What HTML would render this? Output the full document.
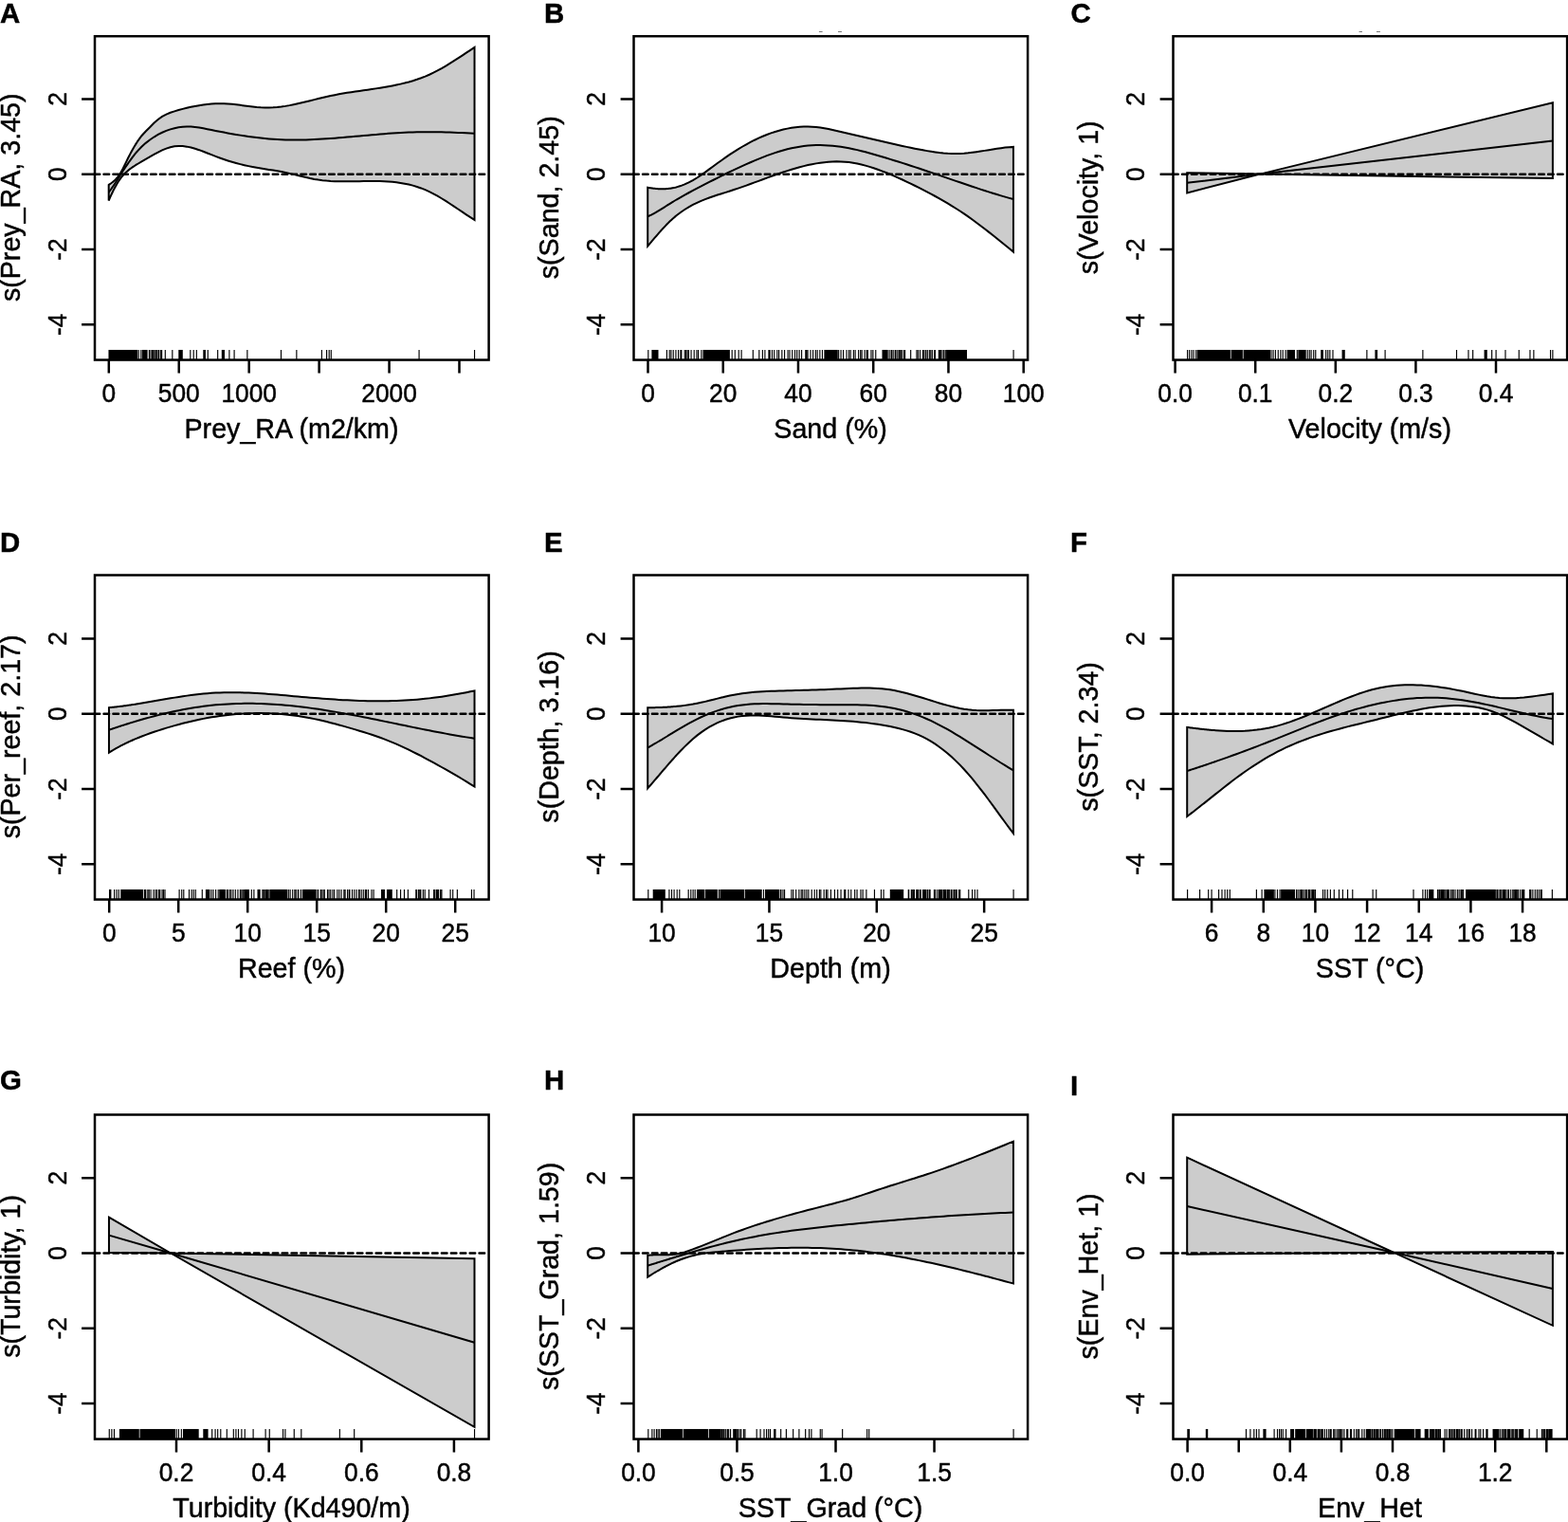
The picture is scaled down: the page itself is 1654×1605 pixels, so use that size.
<!DOCTYPE html>
<html lang="en"><head><meta charset="utf-8"><title>GAM partial effects</title>
<style>html,body{margin:0;padding:0;background:#fff}svg{display:block}text{stroke:#000;stroke-width:.45px}</style></head>
<body>
<svg width="1654" height="1605" viewBox="0 0 1654 1605">
<rect width="1654" height="1605" fill="#fff"/>
<g font-family="'Liberation Sans', Arial, Helvetica, sans-serif" fill="#000">
<g id="panelA">
<path d="M114.69 194.93 L115.94 194.11 L117.19 193.25 L118.44 192.31 L119.02 191.85 L119.69 191.29 L120.94 190.16 L122.19 188.9 L123.36 187.59 L123.44 187.5 L124.69 185.92 L125.94 184.17 L127.19 182.2 L127.69 181.34 L128.44 180.03 L129.69 177.69 L130.94 175.22 L132.03 173.01 L132.19 172.68 L133.44 170.11 L134.69 167.55 L135.94 165.05 L136.36 164.21 L137.19 162.62 L138.44 160.26 L139.69 157.97 L140.7 156.18 L140.94 155.77 L142.19 153.65 L143.44 151.62 L144.69 149.67 L145.03 149.15 L149.37 143.26 L153.7 138.52 L158.04 134.21 L162.37 129.83 L166.71 125.91 L171.04 122.86 L175.38 120.55 L179.71 118.78 L184.05 117.35 L188.39 116.07 L192.72 114.89 L197.06 113.8 L201.39 112.8 L205.73 111.92 L210.06 111.15 L214.4 110.49 L218.73 109.97 L223.07 109.58 L227.4 109.32 L231.74 109.22 L236.07 109.26 L240.41 109.47 L244.74 109.82 L249.08 110.28 L253.41 110.82 L257.75 111.39 L262.09 111.97 L266.42 112.5 L270.76 112.97 L275.09 113.32 L279.43 113.52 L283.76 113.54 L288.1 113.36 L292.43 113.02 L296.77 112.52 L301.1 111.88 L305.44 111.13 L309.77 110.28 L314.11 109.34 L318.44 108.34 L322.78 107.29 L327.11 106.21 L331.45 105.13 L335.79 104.05 L340.12 102.99 L344.46 101.98 L348.79 101.04 L353.13 100.16 L357.46 99.34 L361.8 98.58 L366.13 97.86 L370.47 97.19 L374.8 96.53 L379.14 95.9 L383.47 95.28 L387.81 94.65 L392.14 94.02 L396.48 93.37 L400.81 92.7 L405.15 91.99 L409.49 91.23 L413.82 90.43 L418.16 89.55 L422.49 88.61 L426.83 87.57 L431.16 86.43 L435.5 85.17 L439.83 83.79 L444.17 82.26 L448.5 80.58 L452.84 78.73 L457.17 76.7 L461.51 74.49 L465.84 72.11 L470.18 69.59 L474.51 66.95 L478.85 64.21 L483.18 61.41 L487.52 58.55 L491.86 55.68 L496.19 52.8 L500.53 49.95 L500.53 231.9 L496.19 229.17 L491.86 226.33 L487.52 223.44 L483.18 220.52 L478.85 217.61 L474.51 214.74 L470.18 211.94 L465.84 209.24 L461.51 206.68 L457.17 204.29 L452.84 202.1 L448.5 200.15 L444.17 198.43 L439.83 196.94 L435.5 195.65 L431.16 194.56 L426.83 193.65 L422.49 192.9 L418.16 192.3 L413.82 191.83 L409.49 191.49 L405.15 191.24 L400.81 191.09 L396.48 191.01 L392.14 191 L387.81 191.02 L383.47 191.08 L379.14 191.16 L374.8 191.24 L370.47 191.3 L366.13 191.34 L361.8 191.34 L357.46 191.28 L353.13 191.14 L348.79 190.93 L344.46 190.61 L340.12 190.18 L335.79 189.61 L331.45 188.91 L327.11 188.05 L322.78 187.08 L318.44 186.04 L314.11 184.96 L309.77 183.88 L305.44 182.85 L301.1 181.91 L296.77 181.07 L292.43 180.31 L288.1 179.6 L283.76 178.92 L279.43 178.25 L275.09 177.55 L270.76 176.81 L266.42 176 L262.09 175.11 L257.75 174.15 L253.41 173.1 L249.08 171.96 L244.74 170.74 L240.41 169.42 L236.07 168.01 L231.74 166.5 L227.4 164.89 L223.07 163.19 L218.73 161.47 L214.4 159.77 L210.06 158.18 L205.73 156.75 L201.39 155.55 L197.06 154.64 L192.72 154.08 L188.39 153.95 L184.05 154.3 L179.71 155.2 L175.38 156.6 L171.04 158.41 L166.71 160.55 L162.37 162.91 L158.04 165.42 L153.7 167.98 L149.37 170.49 L145.03 173 L144.69 173.21 L143.44 173.96 L142.19 174.74 L140.94 175.54 L140.7 175.7 L139.69 176.38 L138.44 177.26 L137.19 178.17 L136.36 178.81 L135.94 179.14 L134.69 180.16 L133.44 181.25 L132.19 182.4 L132.03 182.56 L130.94 183.65 L129.69 185 L128.44 186.47 L127.69 187.41 L127.19 188.07 L125.94 189.82 L124.69 191.71 L123.44 193.75 L123.36 193.88 L122.19 195.92 L120.94 198.22 L119.69 200.65 L119.02 202 L118.44 203.21 L117.19 205.88 L115.94 208.67 L114.69 211.56Z" fill="#cccccc" stroke="#000" stroke-width="2.0" stroke-linejoin="miter"/>
<path d="M114.69 202.92 L115.94 201.23 L117.19 199.48 L118.44 197.67 L119.02 196.81 L119.69 195.82 L120.94 193.93 L122.19 192 L123.36 190.19 L123.44 190.06 L124.69 188.11 L125.94 186.15 L127.19 184.19 L127.69 183.41 L128.44 182.25 L129.69 180.32 L130.94 178.42 L132.03 176.77 L132.19 176.53 L133.44 174.67 L134.69 172.84 L135.94 171.05 L136.36 170.45 L137.19 169.3 L138.44 167.58 L139.69 165.91 L140.7 164.6 L140.94 164.3 L142.19 162.73 L143.44 161.22 L144.69 159.77 L145.03 159.38 L149.37 154.82 L153.7 150.87 L158.04 147.46 L162.37 144.52 L166.71 141.98 L171.04 139.78 L175.38 137.92 L179.71 136.38 L184.05 135.17 L188.39 134.29 L192.72 133.73 L197.06 133.5 L201.39 133.58 L205.73 133.95 L210.06 134.55 L214.4 135.3 L218.73 136.15 L223.07 137.04 L227.4 137.92 L231.74 138.77 L236.07 139.6 L240.41 140.4 L244.74 141.18 L249.08 141.91 L253.41 142.62 L257.75 143.29 L262.09 143.91 L266.42 144.5 L270.76 145.04 L275.09 145.54 L279.43 145.98 L283.76 146.38 L288.1 146.72 L292.43 147 L296.77 147.23 L301.1 147.39 L305.44 147.49 L309.77 147.54 L314.11 147.54 L318.44 147.49 L322.78 147.39 L327.11 147.26 L331.45 147.08 L335.79 146.86 L340.12 146.61 L344.46 146.34 L348.79 146.03 L353.13 145.71 L357.46 145.36 L361.8 145 L366.13 144.62 L370.47 144.23 L374.8 143.84 L379.14 143.44 L383.47 143.04 L387.81 142.65 L392.14 142.26 L396.48 141.88 L400.81 141.51 L405.15 141.16 L409.49 140.82 L413.82 140.51 L418.16 140.23 L422.49 139.97 L426.83 139.74 L431.16 139.55 L435.5 139.4 L439.83 139.28 L444.17 139.2 L448.5 139.16 L452.84 139.15 L457.17 139.17 L461.51 139.23 L465.84 139.31 L470.18 139.41 L474.51 139.55 L478.85 139.7 L483.18 139.88 L487.52 140.08 L491.86 140.3 L496.19 140.54 L500.53 140.79" fill="none" stroke="#000" stroke-width="2.0"/>
<line x1="99.6" y1="183.8" x2="513.1" y2="183.8" stroke="#000" stroke-width="2.45" stroke-dasharray="5.65 4.25" stroke-linecap="round"/>
<path d="M146.22 368.95V379.55M148.81 368.95V379.55M157.39 368.95V379.55M158.95 368.95V379.55M160.51 368.95V379.55M161.81 368.95V379.55M163.11 368.95V379.55M164.67 368.95V379.55M165.97 368.95V379.55M167.53 368.95V379.55M169.35 368.95V379.55M170.65 368.95V379.55M174.29 368.95V379.55M181.83 368.95V379.55M200.81 368.95V379.55M204.19 368.95V379.55M207.31 368.95V379.55M219.27 368.95V379.55M229.67 368.95V379.55M241.89 368.95V379.55M247.09 368.95V379.55M260.86 368.95V379.55M296.48 368.95V379.55M312.86 368.95V379.55M339.38 368.95V379.55M344.58 368.95V379.55M347.18 368.95V379.55M349.26 368.95V379.55M442.07 368.95V379.55M500.56 368.95V379.55" stroke="#000" stroke-width="1.15" fill="none"/>
<rect x="114.46" y="368.95" width="30.76" height="10.6"/>
<rect x="149.81" y="368.95" width="5.8" height="10.6"/>
<rect x="188.29" y="368.95" width="4.5" height="10.6"/>
<rect x="214.29" y="368.95" width="2.68" height="10.6"/>
<rect x="233.79" y="368.95" width="3.2" height="10.6"/>
<rect x="100" y="38.2" width="415.6" height="341.35" fill="none" stroke="#000" stroke-width="2.5"/>
<path d="M114.8 379.55V393.45M188.74 379.55V393.45M262.68 379.55V393.45M336.62 379.55V393.45M410.56 379.55V393.45M484.5 379.55V393.45M100 104.54H86.1M100 183.8H86.1M100 263.06H86.1M100 342.32H86.1" stroke="#000" stroke-width="2.5" fill="none"/>
<text transform="translate(114.8 423.95) scale(1 1.03)" font-size="26.3" text-anchor="middle">0</text>
<text transform="translate(188.74 423.95) scale(1 1.03)" font-size="26.3" text-anchor="middle">500</text>
<text transform="translate(262.68 423.95) scale(1 1.03)" font-size="26.3" text-anchor="middle">1000</text>
<text transform="translate(410.56 423.95) scale(1 1.03)" font-size="26.3" text-anchor="middle">2000</text>
<text transform="translate(69.8 104.54) rotate(-90) scale(1 1.03)" font-size="26.3" text-anchor="middle">2</text>
<text transform="translate(69.8 183.8) rotate(-90) scale(1 1.03)" font-size="26.3" text-anchor="middle">0</text>
<text transform="translate(69.8 263.06) rotate(-90) scale(1 1.03)" font-size="26.3" text-anchor="middle">-2</text>
<text transform="translate(69.8 342.32) rotate(-90) scale(1 1.03)" font-size="26.3" text-anchor="middle">-4</text>
<text transform="translate(307.5 461.85) scale(1 1.04)" font-size="28.65" text-anchor="middle">Prey_RA (m2/km)</text>
<text transform="translate(20.6 208.28) rotate(-90) scale(1 1.04)" font-size="28.65" text-anchor="middle">s(Prey_RA, 3.45)</text>
<text transform="translate(0 24.1) scale(1 1.03)" font-size="29.4" text-anchor="start" font-weight="bold">A</text>
</g>
<g id="panelB">
<path d="M683.22 197.71 L684.47 197.94 L685.72 198.16 L686.97 198.36 L687.55 198.44 L688.22 198.54 L689.47 198.7 L690.72 198.84 L691.89 198.96 L691.97 198.97 L693.22 199.07 L694.47 199.15 L695.72 199.21 L696.22 199.23 L696.97 199.25 L698.22 199.27 L699.47 199.26 L700.55 199.24 L700.72 199.23 L701.97 199.17 L703.22 199.09 L704.47 198.99 L704.89 198.95 L705.72 198.86 L706.97 198.7 L708.22 198.51 L709.22 198.34 L709.47 198.3 L710.72 198.05 L711.97 197.78 L713.22 197.48 L713.55 197.39 L717.89 196.08 L722.22 194.42 L726.56 192.43 L730.89 190.11 L735.22 187.5 L739.56 184.63 L743.89 181.59 L748.22 178.43 L752.56 175.24 L756.89 172.06 L761.23 168.94 L765.56 165.89 L769.89 162.94 L774.23 160.08 L778.56 157.35 L782.89 154.74 L787.23 152.27 L791.56 149.93 L795.9 147.73 L800.23 145.68 L804.56 143.77 L808.9 142.01 L813.23 140.4 L817.57 138.96 L821.9 137.67 L826.23 136.55 L830.57 135.61 L834.9 134.83 L839.23 134.23 L843.57 133.82 L847.9 133.59 L852.24 133.54 L856.57 133.69 L860.9 134.04 L865.24 134.58 L869.57 135.27 L873.9 136.09 L878.24 137.01 L882.57 137.98 L886.91 138.98 L891.24 139.99 L895.57 140.99 L899.91 141.99 L904.24 142.99 L908.57 144 L912.91 145.01 L917.24 146.02 L921.58 147.03 L925.91 148.04 L930.24 149.05 L934.58 150.05 L938.91 151.04 L943.25 152.02 L947.58 152.99 L951.91 153.94 L956.25 154.87 L960.58 155.78 L964.91 156.67 L969.25 157.52 L973.58 158.35 L977.92 159.12 L982.25 159.83 L986.58 160.46 L990.92 161.01 L995.25 161.46 L999.58 161.79 L1003.92 161.99 L1008.25 162.06 L1012.59 161.97 L1016.92 161.72 L1021.25 161.34 L1025.59 160.83 L1029.92 160.24 L1034.25 159.58 L1038.59 158.87 L1042.92 158.15 L1047.26 157.44 L1051.59 156.76 L1055.92 156.15 L1060.26 155.61 L1064.59 155.18 L1068.93 154.89 L1068.93 265.55 L1064.59 262.04 L1060.26 258.53 L1055.92 255.02 L1051.59 251.53 L1047.26 248.07 L1042.92 244.64 L1038.59 241.26 L1034.25 237.93 L1029.92 234.68 L1025.59 231.5 L1021.25 228.41 L1016.92 225.42 L1012.59 222.53 L1008.25 219.74 L1003.92 217.04 L999.58 214.42 L995.25 211.87 L990.92 209.4 L986.58 207 L982.25 204.65 L977.92 202.36 L973.58 200.12 L969.25 197.92 L964.91 195.76 L960.58 193.64 L956.25 191.55 L951.91 189.52 L947.58 187.54 L943.25 185.62 L938.91 183.78 L934.58 182.01 L930.24 180.33 L925.91 178.74 L921.58 177.25 L917.24 175.86 L912.91 174.6 L908.57 173.48 L904.24 172.51 L899.91 171.72 L895.57 171.11 L891.24 170.69 L886.91 170.44 L882.57 170.37 L878.24 170.47 L873.9 170.73 L869.57 171.14 L865.24 171.68 L860.9 172.37 L856.57 173.17 L852.24 174.09 L847.9 175.12 L843.57 176.24 L839.23 177.45 L834.9 178.74 L830.57 180.1 L826.23 181.52 L821.9 182.99 L817.57 184.5 L813.23 186.05 L808.9 187.63 L804.56 189.22 L800.23 190.82 L795.9 192.42 L791.56 194 L787.23 195.57 L782.89 197.11 L778.56 198.62 L774.23 200.07 L769.89 201.48 L765.56 202.84 L761.23 204.18 L756.89 205.55 L752.56 206.97 L748.22 208.47 L743.89 210.09 L739.56 211.85 L735.22 213.8 L730.89 215.95 L726.56 218.34 L722.22 221 L717.89 223.98 L713.55 227.31 L713.22 227.58 L711.97 228.62 L710.72 229.69 L709.47 230.79 L709.22 231.01 L708.22 231.93 L706.97 233.1 L705.72 234.31 L704.89 235.13 L704.47 235.54 L703.22 236.81 L701.97 238.11 L700.72 239.43 L700.55 239.6 L699.47 240.77 L698.22 242.14 L696.97 243.53 L696.22 244.37 L695.72 244.93 L694.47 246.36 L693.22 247.79 L691.97 249.24 L691.89 249.34 L690.72 250.7 L689.47 252.17 L688.22 253.65 L687.55 254.43 L686.97 255.13 L685.72 256.61 L684.47 258.1 L683.22 259.58Z" fill="#cccccc" stroke="#000" stroke-width="2.0" stroke-linejoin="miter"/>
<path d="M683.22 228.31 L684.47 227.76 L685.72 227.18 L686.97 226.57 L687.55 226.27 L688.22 225.93 L689.47 225.27 L690.72 224.59 L691.89 223.93 L691.97 223.88 L693.22 223.16 L694.47 222.42 L695.72 221.67 L696.22 221.36 L696.97 220.9 L698.22 220.12 L699.47 219.34 L700.55 218.65 L700.72 218.55 L701.97 217.75 L703.22 216.96 L704.47 216.16 L704.89 215.9 L705.72 215.37 L706.97 214.58 L708.22 213.79 L709.22 213.17 L709.47 213.02 L710.72 212.25 L711.97 211.49 L713.22 210.75 L713.55 210.55 L717.89 208.03 L722.22 205.6 L726.56 203.25 L730.89 200.94 L735.22 198.67 L739.56 196.41 L743.89 194.17 L748.22 191.94 L752.56 189.74 L756.89 187.55 L761.23 185.39 L765.56 183.26 L769.89 181.16 L774.23 179.09 L778.56 177.06 L782.89 175.06 L787.23 173.11 L791.56 171.21 L795.9 169.35 L800.23 167.56 L804.56 165.83 L808.9 164.18 L813.23 162.61 L817.57 161.14 L821.9 159.76 L826.23 158.49 L830.57 157.34 L834.9 156.32 L839.23 155.43 L843.57 154.68 L847.9 154.07 L852.24 153.61 L856.57 153.3 L860.9 153.12 L865.24 153.07 L869.57 153.16 L873.9 153.38 L878.24 153.72 L882.57 154.19 L886.91 154.77 L891.24 155.47 L895.57 156.27 L899.91 157.16 L904.24 158.14 L908.57 159.19 L912.91 160.3 L917.24 161.47 L921.58 162.69 L925.91 163.95 L930.24 165.24 L934.58 166.54 L938.91 167.87 L943.25 169.2 L947.58 170.55 L951.91 171.92 L956.25 173.3 L960.58 174.7 L964.91 176.11 L969.25 177.53 L973.58 178.97 L977.92 180.43 L982.25 181.9 L986.58 183.38 L990.92 184.86 L995.25 186.35 L999.58 187.85 L1003.92 189.34 L1008.25 190.83 L1012.59 192.32 L1016.92 193.79 L1021.25 195.26 L1025.59 196.72 L1029.92 198.16 L1034.25 199.59 L1038.59 200.99 L1042.92 202.38 L1047.26 203.74 L1051.59 205.07 L1055.92 206.37 L1060.26 207.64 L1064.59 208.88 L1068.93 210.08" fill="none" stroke="#000" stroke-width="2.0"/>
<line x1="668.1" y1="183.8" x2="1081.6" y2="183.8" stroke="#000" stroke-width="2.45" stroke-dasharray="5.65 4.25" stroke-linecap="round"/>
<path d="M683.8 368.95V379.55M703.42 368.95V379.55M706.17 368.95V379.55M707.9 368.95V379.55M710.23 368.95V379.55M712.94 368.95V379.55M715.61 368.95V379.55M717.96 368.95V379.55M718.85 368.95V379.55M722.22 368.95V379.55M723.6 368.95V379.55M725.16 368.95V379.55M726.47 368.95V379.55M729.06 368.95V379.55M732.2 368.95V379.55M734.92 368.95V379.55M736.57 368.95V379.55M739.91 368.95V379.55M772.19 368.95V379.55M775.31 368.95V379.55M779.21 368.95V379.55M782.07 368.95V379.55M794.29 368.95V379.55M800.79 368.95V379.55M804.35 368.95V379.55M806.9 368.95V379.55M810.96 368.95V379.55M812.1 368.95V379.55M814.48 368.95V379.55M816.72 368.95V379.55M819.83 368.95V379.55M821.63 368.95V379.55M824.83 368.95V379.55M827.59 368.95V379.55M831.08 368.95V379.55M832.99 368.95V379.55M835.74 368.95V379.55M838.54 368.95V379.55M840.73 368.95V379.55M843.14 368.95V379.55M845.6 368.95V379.55M849.81 368.95V379.55M850.72 368.95V379.55M852.07 368.95V379.55M855.01 368.95V379.55M857.6 368.95V379.55M860.31 368.95V379.55M862.18 368.95V379.55M864.84 368.95V379.55M867.46 368.95V379.55M884.64 368.95V379.55M887.07 368.95V379.55M889.56 368.95V379.55M893.08 368.95V379.55M895.51 368.95V379.55M897.22 368.95V379.55M900.33 368.95V379.55M902.14 368.95V379.55M905.61 368.95V379.55M907.69 368.95V379.55M909.17 368.95V379.55M912.07 368.95V379.55M914.24 368.95V379.55M915.38 368.95V379.55M918.98 368.95V379.55M920.87 368.95V379.55M923.76 368.95V379.55M936.97 368.95V379.55M938.9 368.95V379.55M940.57 368.95V379.55M942.16 368.95V379.55M944.21 368.95V379.55M944.98 368.95V379.55M946.84 368.95V379.55M948.45 368.95V379.55M949.86 368.95V379.55M951.03 368.95V379.55M953.12 368.95V379.55M954.55 368.95V379.55M960.67 368.95V379.55M966.92 368.95V379.55M968.46 368.95V379.55M970.47 368.95V379.55M973.56 368.95V379.55M974.94 368.95V379.55M976.69 368.95V379.55M978.3 368.95V379.55M980.33 368.95V379.55M981.77 368.95V379.55M983.36 368.95V379.55M985.56 368.95V379.55M986.46 368.95V379.55M990.35 368.95V379.55M991.17 368.95V379.55M992.33 368.95V379.55M993.97 368.95V379.55M995.65 368.95V379.55M997.29 368.95V379.55M1069.08 368.95V379.55" stroke="#000" stroke-width="1.15" fill="none"/>
<rect x="687.4" y="368.95" width="7.1" height="10.6"/>
<rect x="741.47" y="368.95" width="28.42" height="10.6"/>
<rect x="869.38" y="368.95" width="14.38" height="10.6"/>
<rect x="930.48" y="368.95" width="5.8" height="10.6"/>
<rect x="998.07" y="368.95" width="21.92" height="10.6"/>
<rect x="668.5" y="38.2" width="415.6" height="341.35" fill="none" stroke="#000" stroke-width="2.5"/>
<path d="M683.5 379.55V393.45M762.74 379.55V393.45M841.98 379.55V393.45M921.22 379.55V393.45M1000.46 379.55V393.45M1079.7 379.55V393.45M668.5 104.54H654.6M668.5 183.8H654.6M668.5 263.06H654.6M668.5 342.32H654.6" stroke="#000" stroke-width="2.5" fill="none"/>
<text transform="translate(683.5 423.95) scale(1 1.03)" font-size="26.3" text-anchor="middle">0</text>
<text transform="translate(762.74 423.95) scale(1 1.03)" font-size="26.3" text-anchor="middle">20</text>
<text transform="translate(841.98 423.95) scale(1 1.03)" font-size="26.3" text-anchor="middle">40</text>
<text transform="translate(921.22 423.95) scale(1 1.03)" font-size="26.3" text-anchor="middle">60</text>
<text transform="translate(1000.46 423.95) scale(1 1.03)" font-size="26.3" text-anchor="middle">80</text>
<text transform="translate(1079.7 423.95) scale(1 1.03)" font-size="26.3" text-anchor="middle">100</text>
<text transform="translate(638.3 104.54) rotate(-90) scale(1 1.03)" font-size="26.3" text-anchor="middle">2</text>
<text transform="translate(638.3 183.8) rotate(-90) scale(1 1.03)" font-size="26.3" text-anchor="middle">0</text>
<text transform="translate(638.3 263.06) rotate(-90) scale(1 1.03)" font-size="26.3" text-anchor="middle">-2</text>
<text transform="translate(638.3 342.32) rotate(-90) scale(1 1.03)" font-size="26.3" text-anchor="middle">-4</text>
<text transform="translate(876 461.85) scale(1 1.04)" font-size="28.65" text-anchor="middle">Sand (%)</text>
<text transform="translate(589.1 208.28) rotate(-90) scale(1 1.04)" font-size="28.65" text-anchor="middle">s(Sand, 2.45)</text>
<text transform="translate(573.9 24.1) scale(1 1.03)" font-size="29.4" text-anchor="start" font-weight="bold">B</text>
</g>
<g id="panelC">
<path d="M1252.2 182.2 L1329.1 183.6 L1637.9 108.2 L1637.9 188 L1329.1 183.6 L1252.2 203.4Z" fill="#cccccc" stroke="#000" stroke-width="2.0" stroke-linejoin="miter"/>
<path d="M1252.2 192.8 L1329.1 183.6 L1637.9 148.5" fill="none" stroke="#000" stroke-width="2.0"/>
<line x1="1237.1" y1="183.8" x2="1650.6" y2="183.8" stroke="#000" stroke-width="2.45" stroke-dasharray="5.65 4.25" stroke-linecap="round"/>
<path d="M1252.6 368.95V379.55M1254.68 368.95V379.55M1257.02 368.95V379.55M1259.1 368.95V379.55M1261.7 368.95V379.55M1340.99 368.95V379.55M1343.07 368.95V379.55M1345.41 368.95V379.55M1348.27 368.95V379.55M1350.87 368.95V379.55M1353.21 368.95V379.55M1356.07 368.95V379.55M1368.29 368.95V379.55M1379.21 368.95V379.55M1381.29 368.95V379.55M1383.11 368.95V379.55M1385.7 368.95V379.55M1387.78 368.95V379.55M1398.7 368.95V379.55M1400.78 368.95V379.55M1402.86 368.95V379.55M1405.98 368.95V379.55M1441.86 368.95V379.55M1461.1 368.95V379.55M1500.87 368.95V379.55M1536.49 368.95V379.55M1548.97 368.95V379.55M1553.65 368.95V379.55M1573.67 368.95V379.55M1578.09 368.95V379.55M1587.97 368.95V379.55M1602.26 368.95V379.55M1613.96 368.95V379.55M1617.86 368.95V379.55M1635.54 368.95V379.55M1637.88 368.95V379.55" stroke="#000" stroke-width="1.15" fill="none"/>
<rect x="1262.7" y="368.95" width="35.18" height="10.6"/>
<rect x="1298.57" y="368.95" width="12.3" height="10.6"/>
<rect x="1311.57" y="368.95" width="28.42" height="10.6"/>
<rect x="1357.59" y="368.95" width="8.4" height="10.6"/>
<rect x="1369.29" y="368.95" width="8.4" height="10.6"/>
<rect x="1393.2" y="368.95" width="2.68" height="10.6"/>
<rect x="1415.56" y="368.95" width="3.2" height="10.6"/>
<rect x="1450.4" y="368.95" width="2.68" height="10.6"/>
<rect x="1565.57" y="368.95" width="3.2" height="10.6"/>
<rect x="1237.5" y="38.2" width="415.6" height="341.35" fill="none" stroke="#000" stroke-width="2.5"/>
<path d="M1239.6 379.55V393.45M1324.2 379.55V393.45M1408.8 379.55V393.45M1493.4 379.55V393.45M1578 379.55V393.45M1237.5 104.54H1223.6M1237.5 183.8H1223.6M1237.5 263.06H1223.6M1237.5 342.32H1223.6" stroke="#000" stroke-width="2.5" fill="none"/>
<text transform="translate(1239.6 423.95) scale(1 1.03)" font-size="26.3" text-anchor="middle">0.0</text>
<text transform="translate(1324.2 423.95) scale(1 1.03)" font-size="26.3" text-anchor="middle">0.1</text>
<text transform="translate(1408.8 423.95) scale(1 1.03)" font-size="26.3" text-anchor="middle">0.2</text>
<text transform="translate(1493.4 423.95) scale(1 1.03)" font-size="26.3" text-anchor="middle">0.3</text>
<text transform="translate(1578 423.95) scale(1 1.03)" font-size="26.3" text-anchor="middle">0.4</text>
<text transform="translate(1207.3 104.54) rotate(-90) scale(1 1.03)" font-size="26.3" text-anchor="middle">2</text>
<text transform="translate(1207.3 183.8) rotate(-90) scale(1 1.03)" font-size="26.3" text-anchor="middle">0</text>
<text transform="translate(1207.3 263.06) rotate(-90) scale(1 1.03)" font-size="26.3" text-anchor="middle">-2</text>
<text transform="translate(1207.3 342.32) rotate(-90) scale(1 1.03)" font-size="26.3" text-anchor="middle">-4</text>
<text transform="translate(1445 461.85) scale(1 1.04)" font-size="28.65" text-anchor="middle">Velocity (m/s)</text>
<text transform="translate(1158.1 208.28) rotate(-90) scale(1 1.04)" font-size="28.65" text-anchor="middle">s(Velocity, 1)</text>
<text transform="translate(1129.4 24.4) scale(1 1.03)" font-size="29.4" text-anchor="start" font-weight="bold">C</text>
</g>
<g id="panelD">
<path d="M114.95 746.15 L116.2 746.04 L117.45 745.92 L118.7 745.8 L119.28 745.74 L119.95 745.67 L121.2 745.54 L122.45 745.4 L123.62 745.27 L123.7 745.26 L124.95 745.12 L126.2 744.97 L127.45 744.81 L127.95 744.75 L128.7 744.65 L129.95 744.49 L131.2 744.33 L132.28 744.18 L132.45 744.16 L133.7 743.98 L134.95 743.81 L136.2 743.63 L136.61 743.57 L137.45 743.44 L138.7 743.26 L139.95 743.07 L140.95 742.92 L141.2 742.88 L142.45 742.69 L143.7 742.49 L144.95 742.29 L145.28 742.24 L149.61 741.54 L153.94 740.81 L158.27 740.07 L162.61 739.32 L166.94 738.57 L171.27 737.81 L175.6 737.07 L179.94 736.33 L184.27 735.62 L188.6 734.92 L192.93 734.26 L197.27 733.62 L201.6 733.03 L205.93 732.48 L210.26 731.98 L214.59 731.54 L218.93 731.16 L223.26 730.84 L227.59 730.59 L231.92 730.4 L236.26 730.27 L240.59 730.2 L244.92 730.19 L249.25 730.22 L253.59 730.31 L257.92 730.43 L262.25 730.6 L266.58 730.8 L270.91 731.04 L275.25 731.31 L279.58 731.6 L283.91 731.92 L288.24 732.26 L292.58 732.62 L296.91 732.98 L301.24 733.36 L305.57 733.75 L309.9 734.14 L314.24 734.52 L318.57 734.91 L322.9 735.29 L327.23 735.66 L331.57 736.02 L335.9 736.36 L340.23 736.7 L344.56 737.02 L348.9 737.33 L353.23 737.62 L357.56 737.89 L361.89 738.14 L366.22 738.37 L370.56 738.58 L374.89 738.76 L379.22 738.92 L383.55 739.05 L387.89 739.16 L392.22 739.23 L396.55 739.27 L400.88 739.28 L405.22 739.25 L409.55 739.19 L413.88 739.09 L418.21 738.95 L422.54 738.77 L426.88 738.56 L431.21 738.3 L435.54 738 L439.87 737.66 L444.21 737.27 L448.54 736.84 L452.87 736.37 L457.2 735.84 L461.54 735.28 L465.87 734.66 L470.2 734 L474.53 733.29 L478.86 732.55 L483.2 731.78 L487.53 730.97 L491.86 730.15 L496.19 729.3 L500.53 728.44 L500.53 829.53 L496.19 826.81 L491.86 824.13 L487.53 821.51 L483.2 818.94 L478.86 816.4 L474.53 813.9 L470.2 811.44 L465.87 809 L461.54 806.58 L457.2 804.19 L452.87 801.83 L448.54 799.51 L444.21 797.22 L439.87 794.99 L435.54 792.8 L431.21 790.67 L426.88 788.61 L422.54 786.61 L418.21 784.68 L413.88 782.84 L409.55 781.08 L405.22 779.4 L400.88 777.79 L396.55 776.26 L392.22 774.79 L387.89 773.37 L383.55 772 L379.22 770.67 L374.89 769.38 L370.56 768.11 L366.22 766.86 L361.89 765.64 L357.56 764.44 L353.23 763.28 L348.9 762.16 L344.56 761.08 L340.23 760.04 L335.9 759.06 L331.57 758.13 L327.23 757.26 L322.9 756.45 L318.57 755.7 L314.24 755.03 L309.9 754.42 L305.57 753.89 L301.24 753.43 L296.91 753.03 L292.58 752.7 L288.24 752.45 L283.91 752.25 L279.58 752.13 L275.25 752.07 L270.91 752.08 L266.58 752.15 L262.25 752.28 L257.92 752.48 L253.59 752.75 L249.25 753.08 L244.92 753.46 L240.59 753.92 L236.26 754.43 L231.92 755 L227.59 755.64 L223.26 756.33 L218.93 757.08 L214.59 757.89 L210.26 758.76 L205.93 759.68 L201.6 760.66 L197.27 761.7 L192.93 762.78 L188.6 763.92 L184.27 765.11 L179.94 766.35 L175.6 767.64 L171.27 768.97 L166.94 770.36 L162.61 771.79 L158.27 773.28 L153.94 774.84 L149.61 776.47 L145.28 778.2 L144.95 778.33 L143.7 778.85 L142.45 779.38 L141.2 779.92 L140.95 780.03 L139.95 780.46 L138.7 781.01 L137.45 781.58 L136.61 781.96 L136.2 782.15 L134.95 782.74 L133.7 783.33 L132.45 783.93 L132.28 784.02 L131.2 784.55 L129.95 785.17 L128.7 785.81 L127.95 786.2 L127.45 786.46 L126.2 787.12 L124.95 787.79 L123.7 788.48 L123.62 788.52 L122.45 789.17 L121.2 789.88 L119.95 790.61 L119.28 791 L118.7 791.34 L117.45 792.09 L116.2 792.85 L114.95 793.63Z" fill="#cccccc" stroke="#000" stroke-width="2.0" stroke-linejoin="miter"/>
<path d="M114.95 769.71 L116.2 769.28 L117.45 768.86 L118.7 768.44 L119.28 768.25 L119.95 768.02 L121.2 767.61 L122.45 767.19 L123.62 766.81 L123.7 766.78 L124.95 766.37 L126.2 765.97 L127.45 765.56 L127.95 765.4 L128.7 765.16 L129.95 764.76 L131.2 764.36 L132.28 764.02 L132.45 763.96 L133.7 763.57 L134.95 763.18 L136.2 762.79 L136.61 762.66 L137.45 762.41 L138.7 762.02 L139.95 761.64 L140.95 761.34 L141.2 761.26 L142.45 760.89 L143.7 760.51 L144.95 760.14 L145.28 760.05 L149.61 758.79 L153.94 757.56 L158.27 756.38 L162.61 755.22 L166.94 754.11 L171.27 753.04 L175.6 752.01 L179.94 751.02 L184.27 750.07 L188.6 749.17 L192.93 748.32 L197.27 747.52 L201.6 746.76 L205.93 746.06 L210.26 745.41 L214.59 744.81 L218.93 744.27 L223.26 743.78 L227.59 743.35 L231.92 742.98 L236.26 742.66 L240.59 742.4 L244.92 742.18 L249.25 742.02 L253.59 741.91 L257.92 741.85 L262.25 741.84 L266.58 741.87 L270.91 741.95 L275.25 742.07 L279.58 742.24 L283.91 742.45 L288.24 742.7 L292.58 742.99 L296.91 743.32 L301.24 743.69 L305.57 744.09 L309.9 744.53 L314.24 745.01 L318.57 745.52 L322.9 746.06 L327.23 746.63 L331.57 747.23 L335.9 747.86 L340.23 748.52 L344.56 749.2 L348.9 749.9 L353.23 750.63 L357.56 751.38 L361.89 752.15 L366.22 752.93 L370.56 753.74 L374.89 754.56 L379.22 755.39 L383.55 756.24 L387.89 757.09 L392.22 757.96 L396.55 758.84 L400.88 759.72 L405.22 760.61 L409.55 761.5 L413.88 762.39 L418.21 763.29 L422.54 764.19 L426.88 765.08 L431.21 765.97 L435.54 766.86 L439.87 767.74 L444.21 768.62 L448.54 769.48 L452.87 770.34 L457.2 771.19 L461.54 772.02 L465.87 772.84 L470.2 773.64 L474.53 774.43 L478.86 775.2 L483.2 775.94 L487.53 776.67 L491.86 777.38 L496.19 778.06 L500.53 778.71" fill="none" stroke="#000" stroke-width="2.0"/>
<line x1="99.6" y1="752.8" x2="513.1" y2="752.8" stroke="#000" stroke-width="2.45" stroke-dasharray="5.65 4.25" stroke-linecap="round"/>
<path d="M120.63 937.95V948.55M123.04 937.95V948.55M125.27 937.95V948.55M152.6 937.95V948.55M153.75 937.95V948.55M155.86 937.95V948.55M157.24 937.95V948.55M159.08 937.95V948.55M161.95 937.95V948.55M164.01 937.95V948.55M165.58 937.95V948.55M167.58 937.95V948.55M168.81 937.95V948.55M171.05 937.95V948.55M172.48 937.95V948.55M174 937.95V948.55M189.11 937.95V948.55M191.71 937.95V948.55M193.79 937.95V948.55M199.51 937.95V948.55M202.11 937.95V948.55M204.19 937.95V948.55M206.27 937.95V948.55M213.29 937.95V948.55M222.91 937.95V948.55M224.99 937.95V948.55M227.59 937.95V948.55M230.19 937.95V948.55M237.69 937.95V948.55M239.55 937.95V948.55M240.4 937.95V948.55M242.38 937.95V948.55M243.92 937.95V948.55M245.97 937.95V948.55M248.33 937.95V948.55M250.93 937.95V948.55M253.38 937.95V948.55M254.84 937.95V948.55M256.28 937.95V948.55M265.28 937.95V948.55M267.88 937.95V948.55M276.84 937.95V948.55M278.21 937.95V948.55M278.85 937.95V948.55M280.31 937.95V948.55M281.26 937.95V948.55M282.38 937.95V948.55M283.84 937.95V948.55M304.33 937.95V948.55M306.15 937.95V948.55M308.69 937.95V948.55M310.87 937.95V948.55M312.2 937.95V948.55M314.32 937.95V948.55M314.72 937.95V948.55M317.3 937.95V948.55M319.33 937.95V948.55M333.95 937.95V948.55M335.67 937.95V948.55M338.31 937.95V948.55M339.07 937.95V948.55M340.94 937.95V948.55M342.32 937.95V948.55M345.47 937.95V948.55M347 937.95V948.55M348.75 937.95V948.55M350.96 937.95V948.55M352.73 937.95V948.55M355.79 937.95V948.55M357.81 937.95V948.55M360.06 937.95V948.55M362.83 937.95V948.55M364.11 937.95V948.55M366.55 937.95V948.55M368.24 937.95V948.55M368.91 937.95V948.55M371.55 937.95V948.55M373.84 937.95V948.55M376.14 937.95V948.55M378.54 937.95V948.55M379.12 937.95V948.55M381.16 937.95V948.55M383.29 937.95V948.55M385.34 937.95V948.55M386.5 937.95V948.55M388.39 937.95V948.55M392.02 937.95V948.55M394.1 937.95V948.55M418.67 937.95V948.55M422.57 937.95V948.55M426.47 937.95V948.55M430.37 937.95V948.55M438.79 937.95V948.55M439.49 937.95V948.55M441.41 937.95V948.55M442.77 937.95V948.55M443.79 937.95V948.55M446.32 937.95V948.55M448.17 937.95V948.55M452.47 937.95V948.55M457.62 937.95V948.55M458.87 937.95V948.55M460.55 937.95V948.55M461.5 937.95V948.55M462.62 937.95V948.55M464.65 937.95V948.55M465.91 937.95V948.55M475.08 937.95V948.55M477.68 937.95V948.55M482.36 937.95V948.55M497.44 937.95V948.55M500.04 937.95V948.55" stroke="#000" stroke-width="1.15" fill="none"/>
<rect x="114.98" y="937.95" width="2.42" height="10.6"/>
<rect x="127.2" y="937.95" width="24" height="10.6"/>
<rect x="216.89" y="937.95" width="4.5" height="10.6"/>
<rect x="231.19" y="937.95" width="5.8" height="10.6"/>
<rect x="257.18" y="937.95" width="5.8" height="10.6"/>
<rect x="271.48" y="937.95" width="3.2" height="10.6"/>
<rect x="284.48" y="937.95" width="18.8" height="10.6"/>
<rect x="319.58" y="937.95" width="13.6" height="10.6"/>
<rect x="401.99" y="937.95" width="3.98" height="10.6"/>
<rect x="407.97" y="937.95" width="5.8" height="10.6"/>
<rect x="100" y="606.5" width="415.6" height="342.05" fill="none" stroke="#000" stroke-width="2.5"/>
<path d="M115.2 948.55V962.45M188.2 948.55V962.45M261.2 948.55V962.45M334.2 948.55V962.45M407.2 948.55V962.45M480.2 948.55V962.45M100 673.54H86.1M100 752.8H86.1M100 832.06H86.1M100 911.32H86.1" stroke="#000" stroke-width="2.5" fill="none"/>
<text transform="translate(115.2 992.95) scale(1 1.03)" font-size="26.3" text-anchor="middle">0</text>
<text transform="translate(188.2 992.95) scale(1 1.03)" font-size="26.3" text-anchor="middle">5</text>
<text transform="translate(261.2 992.95) scale(1 1.03)" font-size="26.3" text-anchor="middle">10</text>
<text transform="translate(334.2 992.95) scale(1 1.03)" font-size="26.3" text-anchor="middle">15</text>
<text transform="translate(407.2 992.95) scale(1 1.03)" font-size="26.3" text-anchor="middle">20</text>
<text transform="translate(480.2 992.95) scale(1 1.03)" font-size="26.3" text-anchor="middle">25</text>
<text transform="translate(69.8 673.54) rotate(-90) scale(1 1.03)" font-size="26.3" text-anchor="middle">2</text>
<text transform="translate(69.8 752.8) rotate(-90) scale(1 1.03)" font-size="26.3" text-anchor="middle">0</text>
<text transform="translate(69.8 832.06) rotate(-90) scale(1 1.03)" font-size="26.3" text-anchor="middle">-2</text>
<text transform="translate(69.8 911.32) rotate(-90) scale(1 1.03)" font-size="26.3" text-anchor="middle">-4</text>
<text transform="translate(307.5 1030.85) scale(1 1.04)" font-size="28.65" text-anchor="middle">Reef (%)</text>
<text transform="translate(20.6 776.92) rotate(-90) scale(1 1.04)" font-size="28.65" text-anchor="middle">s(Per_reef, 2.17)</text>
<text transform="translate(0 581.8) scale(1 1.03)" font-size="29.4" text-anchor="start" font-weight="bold">D</text>
</g>
<g id="panelE">
<path d="M683.22 746.26 L684.47 746.25 L685.72 746.23 L686.97 746.21 L687.55 746.2 L688.22 746.18 L689.47 746.16 L690.72 746.13 L691.89 746.1 L691.97 746.1 L693.22 746.06 L694.47 746.02 L695.72 745.98 L696.22 745.96 L696.97 745.93 L698.22 745.88 L699.47 745.82 L700.55 745.77 L700.72 745.76 L701.97 745.7 L703.22 745.63 L704.47 745.56 L704.89 745.53 L705.72 745.48 L706.97 745.39 L708.22 745.3 L709.22 745.23 L709.47 745.21 L710.72 745.11 L711.97 745 L713.22 744.89 L713.55 744.86 L717.89 744.41 L722.22 743.88 L726.56 743.27 L730.89 742.57 L735.22 741.76 L739.56 740.85 L743.89 739.85 L748.22 738.8 L752.56 737.71 L756.89 736.63 L761.23 735.57 L765.56 734.55 L769.89 733.6 L774.23 732.72 L778.56 731.95 L782.89 731.27 L787.23 730.7 L791.56 730.22 L795.9 729.82 L800.23 729.49 L804.56 729.22 L808.9 729 L813.23 728.82 L817.57 728.67 L821.9 728.55 L826.23 728.44 L830.57 728.33 L834.9 728.22 L839.23 728.11 L843.57 727.99 L847.9 727.86 L852.24 727.73 L856.57 727.6 L860.9 727.45 L865.24 727.3 L869.57 727.15 L873.9 726.98 L878.24 726.8 L882.57 726.62 L886.91 726.42 L891.24 726.22 L895.57 726.02 L899.91 725.85 L904.24 725.7 L908.57 725.6 L912.91 725.56 L917.24 725.59 L921.58 725.71 L925.91 725.93 L930.24 726.27 L934.58 726.73 L938.91 727.34 L943.25 728.08 L947.58 728.96 L951.91 729.94 L956.25 731.02 L960.58 732.19 L964.91 733.42 L969.25 734.71 L973.58 736.03 L977.92 737.38 L982.25 738.74 L986.58 740.09 L990.92 741.42 L995.25 742.69 L999.58 743.91 L1003.92 745.04 L1008.25 746.06 L1012.59 746.97 L1016.92 747.73 L1021.25 748.34 L1025.59 748.77 L1029.92 749.04 L1034.25 749.18 L1038.59 749.21 L1042.92 749.17 L1047.26 749.08 L1051.59 748.96 L1055.92 748.85 L1060.26 748.76 L1064.59 748.73 L1068.93 748.79 L1068.93 878.88 L1064.59 873.11 L1060.26 867.25 L1055.92 861.32 L1051.59 855.37 L1047.26 849.42 L1042.92 843.53 L1038.59 837.72 L1034.25 832.04 L1029.92 826.51 L1025.59 821.18 L1021.25 816.08 L1016.92 811.24 L1012.59 806.66 L1008.25 802.35 L1003.92 798.3 L999.58 794.51 L995.25 790.98 L990.92 787.71 L986.58 784.69 L982.25 781.94 L977.92 779.45 L973.58 777.21 L969.25 775.2 L964.91 773.4 L960.58 771.8 L956.25 770.38 L951.91 769.11 L947.58 767.99 L943.25 766.98 L938.91 766.07 L934.58 765.25 L930.24 764.49 L925.91 763.81 L921.58 763.18 L917.24 762.62 L912.91 762.11 L908.57 761.64 L904.24 761.23 L899.91 760.86 L895.57 760.52 L891.24 760.22 L886.91 759.95 L882.57 759.7 L878.24 759.47 L873.9 759.26 L869.57 759.06 L865.24 758.86 L860.9 758.67 L856.57 758.46 L852.24 758.25 L847.9 758.03 L843.57 757.78 L839.23 757.51 L834.9 757.2 L830.57 756.87 L826.23 756.49 L821.9 756.08 L817.57 755.68 L813.23 755.29 L808.9 754.94 L804.56 754.66 L800.23 754.47 L795.9 754.39 L791.56 754.44 L787.23 754.65 L782.89 755.04 L778.56 755.63 L774.23 756.44 L769.89 757.5 L765.56 758.8 L761.23 760.37 L756.89 762.2 L752.56 764.31 L748.22 766.7 L743.89 769.38 L739.56 772.36 L735.22 775.65 L730.89 779.26 L726.56 783.18 L722.22 787.37 L717.89 791.8 L713.55 796.44 L713.22 796.8 L711.97 798.17 L710.72 799.56 L709.47 800.96 L709.22 801.23 L708.22 802.36 L706.97 803.78 L705.72 805.2 L704.89 806.16 L704.47 806.64 L703.22 808.08 L701.97 809.53 L700.72 810.98 L700.55 811.17 L699.47 812.44 L698.22 813.9 L696.97 815.36 L696.22 816.24 L695.72 816.83 L694.47 818.29 L693.22 819.76 L691.97 821.23 L691.89 821.32 L690.72 822.69 L689.47 824.15 L688.22 825.61 L687.55 826.39 L686.97 827.07 L685.72 828.52 L684.47 829.96 L683.22 831.4Z" fill="#cccccc" stroke="#000" stroke-width="2.0" stroke-linejoin="miter"/>
<path d="M683.22 788.45 L684.47 787.76 L685.72 787.06 L686.97 786.36 L687.55 786.03 L688.22 785.65 L689.47 784.94 L690.72 784.21 L691.89 783.53 L691.97 783.48 L693.22 782.75 L694.47 782.01 L695.72 781.27 L696.22 780.97 L696.97 780.52 L698.22 779.77 L699.47 779.01 L700.55 778.36 L700.72 778.26 L701.97 777.5 L703.22 776.74 L704.47 775.98 L704.89 775.72 L705.72 775.22 L706.97 774.46 L708.22 773.69 L709.22 773.09 L709.47 772.94 L710.72 772.18 L711.97 771.42 L713.22 770.67 L713.55 770.47 L717.89 767.88 L722.22 765.36 L726.56 762.91 L730.89 760.57 L735.22 758.34 L739.56 756.25 L743.89 754.31 L748.22 752.51 L752.56 750.86 L756.89 749.35 L761.23 748 L765.56 746.79 L769.89 745.73 L774.23 744.82 L778.56 744.06 L782.89 743.45 L787.23 742.96 L791.56 742.6 L795.9 742.35 L800.23 742.19 L804.56 742.11 L808.9 742.1 L813.23 742.14 L817.57 742.21 L821.9 742.32 L826.23 742.44 L830.57 742.55 L834.9 742.66 L839.23 742.75 L843.57 742.84 L847.9 742.92 L852.24 742.99 L856.57 743.05 L860.9 743.1 L865.24 743.14 L869.57 743.17 L873.9 743.2 L878.24 743.22 L882.57 743.23 L886.91 743.23 L891.24 743.23 L895.57 743.24 L899.91 743.26 L904.24 743.31 L908.57 743.41 L912.91 743.55 L917.24 743.76 L921.58 744.05 L925.91 744.42 L930.24 744.89 L934.58 745.47 L938.91 746.17 L943.25 747 L947.58 747.96 L951.91 749.04 L956.25 750.26 L960.58 751.6 L964.91 753.06 L969.25 754.66 L973.58 756.38 L977.92 758.23 L982.25 760.21 L986.58 762.31 L990.92 764.52 L995.25 766.83 L999.58 769.23 L1003.92 771.72 L1008.25 774.28 L1012.59 776.9 L1016.92 779.58 L1021.25 782.3 L1025.59 785.05 L1029.92 787.83 L1034.25 790.63 L1038.59 793.43 L1042.92 796.23 L1047.26 799.01 L1051.59 801.77 L1055.92 804.49 L1060.26 807.18 L1064.59 809.8 L1068.93 812.37" fill="none" stroke="#000" stroke-width="2.0"/>
<line x1="668.1" y1="752.8" x2="1081.6" y2="752.8" stroke="#000" stroke-width="2.45" stroke-dasharray="5.65 4.25" stroke-linecap="round"/>
<path d="M683.8 937.95V948.55M705.9 937.95V948.55M708.5 937.95V948.55M711.1 937.95V948.55M714.22 937.95V948.55M716.81 937.95V948.55M726.17 937.95V948.55M728.77 937.95V948.55M731.11 937.95V948.55M733.19 937.95V948.55M758.41 937.95V948.55M805.47 937.95V948.55M823.21 937.95V948.55M823.91 937.95V948.55M825.96 937.95V948.55M827.57 937.95V948.55M834.9 937.95V948.55M836.79 937.95V948.55M839.65 937.95V948.55M842.86 937.95V948.55M845.18 937.95V948.55M846.77 937.95V948.55M848.85 937.95V948.55M850.91 937.95V948.55M852.89 937.95V948.55M856.17 937.95V948.55M859.21 937.95V948.55M861.63 937.95V948.55M864.41 937.95V948.55M865.86 937.95V948.55M869.16 937.95V948.55M871.47 937.95V948.55M872.94 937.95V948.55M876.44 937.95V948.55M880.43 937.95V948.55M883.7 937.95V948.55M887.04 937.95V948.55M890.62 937.95V948.55M891.76 937.95V948.55M894.99 937.95V948.55M897.74 937.95V948.55M901.67 937.95V948.55M904.05 937.95V948.55M907.96 937.95V948.55M910.12 937.95V948.55M913.88 937.95V948.55M922.46 937.95V948.55M929.48 937.95V948.55M932.07 937.95V948.55M958.25 937.95V948.55M958.67 937.95V948.55M961.34 937.95V948.55M962.24 937.95V948.55M963.54 937.95V948.55M964.41 937.95V948.55M966.74 937.95V948.55M967.71 937.95V948.55M968.53 937.95V948.55M970.27 937.95V948.55M971.28 937.95V948.55M973.57 937.95V948.55M974.49 937.95V948.55M975.62 937.95V948.55M976.8 937.95V948.55M978.39 937.95V948.55M980.11 937.95V948.55M981.06 937.95V948.55M985.44 937.95V948.55M986.68 937.95V948.55M988.83 937.95V948.55M990.54 937.95V948.55M991.37 937.95V948.55M992.6 937.95V948.55M993.34 937.95V948.55M994.99 937.95V948.55M995.92 937.95V948.55M997.09 937.95V948.55M997.7 937.95V948.55M999.29 937.95V948.55M1000.34 937.95V948.55M1001.67 937.95V948.55M1003.43 937.95V948.55M1004.95 937.95V948.55M1006.59 937.95V948.55M1008.08 937.95V948.55M1009.23 937.95V948.55M1011.56 937.95V948.55M1012.74 937.95V948.55M1021.78 937.95V948.55M1025.59 937.95V948.55M1028.31 937.95V948.55M1030.98 937.95V948.55M1069.08 937.95V948.55" stroke="#000" stroke-width="1.15" fill="none"/>
<rect x="688.7" y="937.95" width="13.08" height="10.6"/>
<rect x="734.97" y="937.95" width="8.4" height="10.6"/>
<rect x="744.07" y="937.95" width="12.82" height="10.6"/>
<rect x="759.41" y="937.95" width="25.56" height="10.6"/>
<rect x="785.67" y="937.95" width="18.02" height="10.6"/>
<rect x="806.99" y="937.95" width="14.9" height="10.6"/>
<rect x="938.79" y="937.95" width="14.38" height="10.6"/>
<rect x="668.5" y="606.5" width="415.6" height="342.05" fill="none" stroke="#000" stroke-width="2.5"/>
<path d="M698.1 948.55V962.45M811.45 948.55V962.45M924.8 948.55V962.45M1038.15 948.55V962.45M668.5 673.54H654.6M668.5 752.8H654.6M668.5 832.06H654.6M668.5 911.32H654.6" stroke="#000" stroke-width="2.5" fill="none"/>
<text transform="translate(698.1 992.95) scale(1 1.03)" font-size="26.3" text-anchor="middle">10</text>
<text transform="translate(811.45 992.95) scale(1 1.03)" font-size="26.3" text-anchor="middle">15</text>
<text transform="translate(924.8 992.95) scale(1 1.03)" font-size="26.3" text-anchor="middle">20</text>
<text transform="translate(1038.15 992.95) scale(1 1.03)" font-size="26.3" text-anchor="middle">25</text>
<text transform="translate(638.3 673.54) rotate(-90) scale(1 1.03)" font-size="26.3" text-anchor="middle">2</text>
<text transform="translate(638.3 752.8) rotate(-90) scale(1 1.03)" font-size="26.3" text-anchor="middle">0</text>
<text transform="translate(638.3 832.06) rotate(-90) scale(1 1.03)" font-size="26.3" text-anchor="middle">-2</text>
<text transform="translate(638.3 911.32) rotate(-90) scale(1 1.03)" font-size="26.3" text-anchor="middle">-4</text>
<text transform="translate(876 1030.85) scale(1 1.04)" font-size="28.65" text-anchor="middle">Depth (m)</text>
<text transform="translate(589.1 776.92) rotate(-90) scale(1 1.04)" font-size="28.65" text-anchor="middle">s(Depth, 3.16)</text>
<text transform="translate(573.9 581.8) scale(1 1.03)" font-size="29.4" text-anchor="start" font-weight="bold">E</text>
</g>
<g id="panelF">
<path d="M1252.22 766.88 L1253.47 767.05 L1254.72 767.22 L1255.97 767.39 L1256.55 767.47 L1257.22 767.55 L1258.47 767.72 L1259.72 767.88 L1260.88 768.03 L1260.97 768.04 L1262.22 768.19 L1263.47 768.34 L1264.72 768.49 L1265.22 768.55 L1265.97 768.64 L1267.22 768.78 L1268.47 768.92 L1269.55 769.04 L1269.72 769.06 L1270.97 769.19 L1272.22 769.32 L1273.47 769.45 L1273.89 769.49 L1274.72 769.57 L1275.97 769.69 L1277.22 769.8 L1278.22 769.89 L1278.47 769.91 L1279.72 770.01 L1280.97 770.11 L1282.22 770.21 L1282.55 770.23 L1286.89 770.52 L1291.22 770.74 L1295.55 770.89 L1299.89 770.97 L1304.22 770.97 L1308.55 770.88 L1312.89 770.7 L1317.22 770.42 L1321.55 770.05 L1325.89 769.56 L1330.22 768.97 L1334.56 768.26 L1338.89 767.42 L1343.22 766.46 L1347.56 765.36 L1351.89 764.13 L1356.22 762.79 L1360.56 761.34 L1364.89 759.8 L1369.22 758.17 L1373.56 756.46 L1377.89 754.7 L1382.22 752.89 L1386.56 751.03 L1390.89 749.15 L1395.23 747.26 L1399.56 745.36 L1403.89 743.46 L1408.23 741.58 L1412.56 739.73 L1416.89 737.92 L1421.23 736.17 L1425.56 734.47 L1429.89 732.85 L1434.23 731.31 L1438.56 729.87 L1442.89 728.54 L1447.23 727.32 L1451.56 726.24 L1455.9 725.29 L1460.23 724.49 L1464.56 723.81 L1468.9 723.27 L1473.23 722.84 L1477.56 722.54 L1481.9 722.35 L1486.23 722.27 L1490.56 722.29 L1494.9 722.41 L1499.23 722.62 L1503.56 722.93 L1507.9 723.31 L1512.23 723.78 L1516.57 724.32 L1520.9 724.93 L1525.23 725.61 L1529.57 726.34 L1533.9 727.13 L1538.23 727.97 L1542.57 728.85 L1546.9 729.78 L1551.23 730.73 L1555.57 731.69 L1559.9 732.63 L1564.23 733.51 L1568.57 734.31 L1572.9 734.99 L1577.24 735.53 L1581.57 735.93 L1585.9 736.18 L1590.24 736.3 L1594.57 736.28 L1598.9 736.13 L1603.24 735.85 L1607.57 735.47 L1611.9 734.99 L1616.24 734.45 L1620.57 733.87 L1624.9 733.26 L1629.24 732.64 L1633.57 732.05 L1637.91 731.49 L1637.91 784.43 L1633.57 781.99 L1629.24 779.5 L1624.9 776.98 L1620.57 774.45 L1616.24 771.91 L1611.9 769.38 L1607.57 766.87 L1603.24 764.39 L1598.9 761.96 L1594.57 759.59 L1590.24 757.31 L1585.9 755.16 L1581.57 753.16 L1577.24 751.34 L1572.9 749.74 L1568.57 748.37 L1564.23 747.22 L1559.9 746.28 L1555.57 745.52 L1551.23 744.95 L1546.9 744.53 L1542.57 744.25 L1538.23 744.11 L1533.9 744.1 L1529.57 744.22 L1525.23 744.45 L1520.9 744.78 L1516.57 745.22 L1512.23 745.75 L1507.9 746.36 L1503.56 747.05 L1499.23 747.82 L1494.9 748.65 L1490.56 749.54 L1486.23 750.48 L1481.9 751.46 L1477.56 752.47 L1473.23 753.52 L1468.9 754.58 L1464.56 755.66 L1460.23 756.75 L1455.9 757.84 L1451.56 758.92 L1447.23 759.98 L1442.89 761.04 L1438.56 762.1 L1434.23 763.16 L1429.89 764.22 L1425.56 765.3 L1421.23 766.4 L1416.89 767.52 L1412.56 768.66 L1408.23 769.84 L1403.89 771.06 L1399.56 772.32 L1395.23 773.63 L1390.89 774.99 L1386.56 776.42 L1382.22 777.9 L1377.89 779.46 L1373.56 781.09 L1369.22 782.8 L1364.89 784.59 L1360.56 786.48 L1356.22 788.46 L1351.89 790.54 L1347.56 792.73 L1343.22 795.02 L1338.89 797.43 L1334.56 799.95 L1330.22 802.57 L1325.89 805.29 L1321.55 808.11 L1317.22 811.03 L1312.89 814.04 L1308.55 817.13 L1304.22 820.31 L1299.89 823.57 L1295.55 826.89 L1291.22 830.26 L1286.89 833.68 L1282.55 837.12 L1282.22 837.39 L1280.97 838.38 L1279.72 839.38 L1278.47 840.38 L1278.22 840.58 L1277.22 841.38 L1275.97 842.37 L1274.72 843.37 L1273.89 844.04 L1273.47 844.37 L1272.22 845.37 L1270.97 846.36 L1269.72 847.35 L1269.55 847.48 L1268.47 848.34 L1267.22 849.33 L1265.97 850.32 L1265.22 850.91 L1264.72 851.3 L1263.47 852.28 L1262.22 853.26 L1260.97 854.24 L1260.88 854.3 L1259.72 855.2 L1258.47 856.17 L1257.22 857.13 L1256.55 857.64 L1255.97 858.09 L1254.72 859.04 L1253.47 859.98 L1252.22 860.92Z" fill="#cccccc" stroke="#000" stroke-width="2.0" stroke-linejoin="miter"/>
<path d="M1252.22 813.03 L1253.47 812.63 L1254.72 812.23 L1255.97 811.82 L1256.55 811.63 L1257.22 811.42 L1258.47 811.01 L1259.72 810.6 L1260.88 810.22 L1260.97 810.19 L1262.22 809.78 L1263.47 809.37 L1264.72 808.95 L1265.22 808.79 L1265.97 808.54 L1267.22 808.12 L1268.47 807.7 L1269.55 807.34 L1269.72 807.28 L1270.97 806.86 L1272.22 806.44 L1273.47 806.02 L1273.89 805.88 L1274.72 805.59 L1275.97 805.17 L1277.22 804.74 L1278.22 804.4 L1278.47 804.31 L1279.72 803.88 L1280.97 803.45 L1282.22 803.02 L1282.55 802.9 L1286.89 801.39 L1291.22 799.87 L1295.55 798.32 L1299.89 796.77 L1304.22 795.19 L1308.55 793.6 L1312.89 792 L1317.22 790.38 L1321.55 788.74 L1325.89 787.09 L1330.22 785.43 L1334.56 783.75 L1338.89 782.05 L1343.22 780.34 L1347.56 778.61 L1351.89 776.87 L1356.22 775.12 L1360.56 773.37 L1364.89 771.62 L1369.22 769.87 L1373.56 768.13 L1377.89 766.4 L1382.22 764.69 L1386.56 763 L1390.89 761.34 L1395.23 759.7 L1399.56 758.1 L1403.89 756.53 L1408.23 755 L1412.56 753.52 L1416.89 752.08 L1421.23 750.7 L1425.56 749.36 L1429.89 748.08 L1434.23 746.85 L1438.56 745.68 L1442.89 744.56 L1447.23 743.5 L1451.56 742.5 L1455.9 741.56 L1460.23 740.68 L1464.56 739.87 L1468.9 739.12 L1473.23 738.43 L1477.56 737.82 L1481.9 737.28 L1486.23 736.81 L1490.56 736.43 L1494.9 736.12 L1499.23 735.89 L1503.56 735.75 L1507.9 735.69 L1512.23 735.73 L1516.57 735.85 L1520.9 736.05 L1525.23 736.33 L1529.57 736.7 L1533.9 737.14 L1538.23 737.66 L1542.57 738.25 L1546.9 738.91 L1551.23 739.64 L1555.57 740.43 L1559.9 741.28 L1564.23 742.17 L1568.57 743.11 L1572.9 744.08 L1577.24 745.08 L1581.57 746.1 L1585.9 747.14 L1590.24 748.18 L1594.57 749.22 L1598.9 750.25 L1603.24 751.27 L1607.57 752.27 L1611.9 753.24 L1616.24 754.18 L1620.57 755.08 L1624.9 755.92 L1629.24 756.71 L1633.57 757.44 L1637.91 758.1" fill="none" stroke="#000" stroke-width="2.0"/>
<line x1="1237.1" y1="752.8" x2="1650.6" y2="752.8" stroke="#000" stroke-width="2.45" stroke-dasharray="5.65 4.25" stroke-linecap="round"/>
<path d="M1252.6 937.95V948.55M1265.6 937.95V948.55M1274.7 937.95V948.55M1278.07 937.95V948.55M1285.61 937.95V948.55M1288.99 937.95V948.55M1292.11 937.95V948.55M1294.71 937.95V948.55M1297.31 937.95V948.55M1325.39 937.95V948.55M1331.11 937.95V948.55M1344.89 937.95V948.55M1347.49 937.95V948.55M1350.09 937.95V948.55M1367.51 937.95V948.55M1369.07 937.95V948.55M1371 937.95V948.55M1372.4 937.95V948.55M1373.6 937.95V948.55M1375.21 937.95V948.55M1377.13 937.95V948.55M1378.22 937.95V948.55M1380.15 937.95V948.55M1380.95 937.95V948.55M1381.92 937.95V948.55M1383.81 937.95V948.55M1384.81 937.95V948.55M1385.4 937.95V948.55M1386.84 937.95V948.55M1387.44 937.95V948.55M1395.58 937.95V948.55M1397.66 937.95V948.55M1400.26 937.95V948.55M1403.38 937.95V948.55M1407.28 937.95V948.55M1412.48 937.95V948.55M1416.38 937.95V948.55M1421.58 937.95V948.55M1426.78 937.95V948.55M1448.1 937.95V948.55M1451.74 937.95V948.55M1491 937.95V948.55M1500.87 937.95V948.55M1503.47 937.95V948.55M1505.55 937.95V948.55M1516.6 937.95V948.55M1518.07 937.95V948.55M1518.62 937.95V948.55M1520 937.95V948.55M1521.09 937.95V948.55M1522.23 937.95V948.55M1523.25 937.95V948.55M1524.77 937.95V948.55M1526.3 937.95V948.55M1527.42 937.95V948.55M1528.54 937.95V948.55M1530.59 937.95V948.55M1532.27 937.95V948.55M1533.05 937.95V948.55M1534.99 937.95V948.55M1537.36 937.95V948.55M1539.12 937.95V948.55M1541.03 937.95V948.55M1542.08 937.95V948.55M1543.39 937.95V948.55M1578.93 937.95V948.55M1580.02 937.95V948.55M1581.99 937.95V948.55M1583.23 937.95V948.55M1584.99 937.95V948.55M1586.21 937.95V948.55M1587.01 937.95V948.55M1588.11 937.95V948.55M1590.05 937.95V948.55M1591.52 937.95V948.55M1593.7 937.95V948.55M1595.76 937.95V948.55M1597.11 937.95V948.55M1598.39 937.95V948.55M1599.27 937.95V948.55M1600.2 937.95V948.55M1601.61 937.95V948.55M1603.75 937.95V948.55M1605.72 937.95V948.55M1606.77 937.95V948.55M1607.76 937.95V948.55M1613.66 937.95V948.55M1614.85 937.95V948.55M1616.87 937.95V948.55M1619.28 937.95V948.55M1621.35 937.95V948.55M1623.25 937.95V948.55M1625.19 937.95V948.55M1626.26 937.95V948.55M1637.36 937.95V948.55" stroke="#000" stroke-width="1.15" fill="none"/>
<rect x="1333.41" y="937.95" width="10.48" height="10.6"/>
<rect x="1351.09" y="937.95" width="14.9" height="10.6"/>
<rect x="1507.07" y="937.95" width="5.28" height="10.6"/>
<rect x="1546.07" y="937.95" width="31.8" height="10.6"/>
<rect x="1237.5" y="606.5" width="415.6" height="342.05" fill="none" stroke="#000" stroke-width="2.5"/>
<path d="M1278.1 948.55V962.45M1332.76 948.55V962.45M1387.42 948.55V962.45M1442.08 948.55V962.45M1496.74 948.55V962.45M1551.4 948.55V962.45M1606.06 948.55V962.45M1237.5 673.54H1223.6M1237.5 752.8H1223.6M1237.5 832.06H1223.6M1237.5 911.32H1223.6" stroke="#000" stroke-width="2.5" fill="none"/>
<text transform="translate(1278.1 992.95) scale(1 1.03)" font-size="26.3" text-anchor="middle">6</text>
<text transform="translate(1332.76 992.95) scale(1 1.03)" font-size="26.3" text-anchor="middle">8</text>
<text transform="translate(1387.42 992.95) scale(1 1.03)" font-size="26.3" text-anchor="middle">10</text>
<text transform="translate(1442.08 992.95) scale(1 1.03)" font-size="26.3" text-anchor="middle">12</text>
<text transform="translate(1496.74 992.95) scale(1 1.03)" font-size="26.3" text-anchor="middle">14</text>
<text transform="translate(1551.4 992.95) scale(1 1.03)" font-size="26.3" text-anchor="middle">16</text>
<text transform="translate(1606.06 992.95) scale(1 1.03)" font-size="26.3" text-anchor="middle">18</text>
<text transform="translate(1207.3 673.54) rotate(-90) scale(1 1.03)" font-size="26.3" text-anchor="middle">2</text>
<text transform="translate(1207.3 752.8) rotate(-90) scale(1 1.03)" font-size="26.3" text-anchor="middle">0</text>
<text transform="translate(1207.3 832.06) rotate(-90) scale(1 1.03)" font-size="26.3" text-anchor="middle">-2</text>
<text transform="translate(1207.3 911.32) rotate(-90) scale(1 1.03)" font-size="26.3" text-anchor="middle">-4</text>
<text transform="translate(1445 1030.85) scale(1 1.04)" font-size="28.65" text-anchor="middle">SST (°C)</text>
<text transform="translate(1158.1 776.92) rotate(-90) scale(1 1.04)" font-size="28.65" text-anchor="middle">s(SST, 2.34)</text>
<text transform="translate(1129 581.8) scale(1 1.03)" font-size="29.4" text-anchor="start" font-weight="bold">F</text>
</g>
<g id="panelG">
<path d="M114.95 1283.7 L180.1 1321.5 L500.5 1327.3 L500.5 1504.8 L180.1 1321.5 L114.95 1320.9Z" fill="#cccccc" stroke="#000" stroke-width="2.0" stroke-linejoin="miter"/>
<path d="M114.95 1302.6 L180.1 1321.5 L500.5 1415.7" fill="none" stroke="#000" stroke-width="2.0"/>
<line x1="99.6" y1="1321.55" x2="513.1" y2="1321.55" stroke="#000" stroke-width="2.45" stroke-dasharray="5.65 4.25" stroke-linecap="round"/>
<path d="M115.28 1506.95V1517.55M117.88 1506.95V1517.55M120.48 1506.95V1517.55M186.25 1506.95V1517.55M188.43 1506.95V1517.55M191.32 1506.95V1517.55M223.69 1506.95V1517.55M227.07 1506.95V1517.55M229.67 1506.95V1517.55M232.79 1506.95V1517.55M239.29 1506.95V1517.55M246.31 1506.95V1517.55M248.91 1506.95V1517.55M251.51 1506.95V1517.55M254.89 1506.95V1517.55M258.26 1506.95V1517.55M267.1 1506.95V1517.55M280.1 1506.95V1517.55M284.26 1506.95V1517.55M298.56 1506.95V1517.55M300.9 1506.95V1517.55M310.26 1506.95V1517.55M317.8 1506.95V1517.55M358.36 1506.95V1517.55M373.69 1506.95V1517.55M500.56 1506.95V1517.55" stroke="#000" stroke-width="1.15" fill="none"/>
<rect x="125.9" y="1506.95" width="20.88" height="10.6"/>
<rect x="147.48" y="1506.95" width="37.52" height="10.6"/>
<rect x="192.97" y="1506.95" width="16.72" height="10.6"/>
<rect x="214.29" y="1506.95" width="5.28" height="10.6"/>
<rect x="100" y="1175.5" width="415.6" height="342.05" fill="none" stroke="#000" stroke-width="2.5"/>
<path d="M186 1517.55V1531.45M283.64 1517.55V1531.45M381.28 1517.55V1531.45M478.92 1517.55V1531.45M100 1242.29H86.1M100 1321.55H86.1M100 1400.81H86.1M100 1480.07H86.1" stroke="#000" stroke-width="2.5" fill="none"/>
<text transform="translate(186 1561.95) scale(1 1.03)" font-size="26.3" text-anchor="middle">0.2</text>
<text transform="translate(283.64 1561.95) scale(1 1.03)" font-size="26.3" text-anchor="middle">0.4</text>
<text transform="translate(381.28 1561.95) scale(1 1.03)" font-size="26.3" text-anchor="middle">0.6</text>
<text transform="translate(478.92 1561.95) scale(1 1.03)" font-size="26.3" text-anchor="middle">0.8</text>
<text transform="translate(69.8 1242.29) rotate(-90) scale(1 1.03)" font-size="26.3" text-anchor="middle">2</text>
<text transform="translate(69.8 1321.55) rotate(-90) scale(1 1.03)" font-size="26.3" text-anchor="middle">0</text>
<text transform="translate(69.8 1400.81) rotate(-90) scale(1 1.03)" font-size="26.3" text-anchor="middle">-2</text>
<text transform="translate(69.8 1480.07) rotate(-90) scale(1 1.03)" font-size="26.3" text-anchor="middle">-4</text>
<text transform="translate(307.5 1599.85) scale(1 1.04)" font-size="28.65" text-anchor="middle">Turbidity (Kd490/m)</text>
<text transform="translate(20.6 1345.93) rotate(-90) scale(1 1.04)" font-size="28.65" text-anchor="middle">s(Turbidity, 1)</text>
<text transform="translate(0 1149.2) scale(1 1.03)" font-size="29.4" text-anchor="start" font-weight="bold">G</text>
</g>
<g id="panelH">
<path d="M683.22 1323.75 L684.47 1323.63 L685.72 1323.53 L686.97 1323.45 L687.55 1323.42 L688.22 1323.39 L689.47 1323.35 L690.72 1323.32 L691.89 1323.3 L691.97 1323.3 L693.22 1323.29 L694.47 1323.29 L695.72 1323.29 L696.22 1323.29 L696.97 1323.29 L698.22 1323.3 L699.47 1323.3 L700.55 1323.3 L700.72 1323.3 L701.97 1323.29 L703.22 1323.26 L704.47 1323.23 L704.89 1323.22 L705.72 1323.18 L706.97 1323.12 L708.22 1323.04 L709.22 1322.95 L709.47 1322.93 L710.72 1322.8 L711.97 1322.65 L713.22 1322.47 L713.55 1322.42 L717.89 1321.58 L722.22 1320.45 L726.56 1319.01 L730.89 1317.42 L735.22 1315.76 L739.56 1314.06 L743.89 1312.34 L748.22 1310.59 L752.56 1308.83 L756.89 1307.06 L761.23 1305.31 L765.56 1303.56 L769.89 1301.85 L774.23 1300.17 L778.56 1298.53 L782.89 1296.94 L787.23 1295.39 L791.56 1293.88 L795.9 1292.42 L800.23 1290.99 L804.56 1289.6 L808.9 1288.24 L813.23 1286.92 L817.57 1285.62 L821.9 1284.36 L826.23 1283.11 L830.57 1281.9 L834.9 1280.7 L839.23 1279.52 L843.57 1278.36 L847.9 1277.22 L852.24 1276.08 L856.57 1274.96 L860.9 1273.85 L865.24 1272.74 L869.57 1271.64 L873.9 1270.54 L878.24 1269.43 L882.57 1268.31 L886.91 1267.15 L891.24 1265.96 L895.57 1264.71 L899.91 1263.41 L904.24 1262.04 L908.57 1260.63 L912.91 1259.17 L917.24 1257.7 L921.58 1256.23 L925.91 1254.77 L930.24 1253.34 L934.58 1251.93 L938.91 1250.55 L943.25 1249.19 L947.58 1247.83 L951.91 1246.49 L956.25 1245.14 L960.58 1243.8 L964.91 1242.44 L969.25 1241.07 L973.58 1239.68 L977.92 1238.27 L982.25 1236.84 L986.58 1235.37 L990.92 1233.87 L995.25 1232.35 L999.58 1230.8 L1003.92 1229.23 L1008.25 1227.64 L1012.59 1226.02 L1016.92 1224.39 L1021.25 1222.73 L1025.59 1221.06 L1029.92 1219.37 L1034.25 1217.67 L1038.59 1215.95 L1042.92 1214.22 L1047.26 1212.48 L1051.59 1210.72 L1055.92 1208.96 L1060.26 1207.2 L1064.59 1205.42 L1068.93 1203.65 L1068.93 1353.55 L1064.59 1352.38 L1060.26 1351.2 L1055.92 1350.04 L1051.59 1348.88 L1047.26 1347.72 L1042.92 1346.58 L1038.59 1345.44 L1034.25 1344.32 L1029.92 1343.2 L1025.59 1342.1 L1021.25 1341.01 L1016.92 1339.93 L1012.59 1338.86 L1008.25 1337.81 L1003.92 1336.77 L999.58 1335.75 L995.25 1334.75 L990.92 1333.76 L986.58 1332.79 L982.25 1331.84 L977.92 1330.91 L973.58 1330 L969.25 1329.12 L964.91 1328.25 L960.58 1327.41 L956.25 1326.59 L951.91 1325.79 L947.58 1325.02 L943.25 1324.27 L938.91 1323.56 L934.58 1322.87 L930.24 1322.2 L925.91 1321.57 L921.58 1320.96 L917.24 1320.39 L912.91 1319.85 L908.57 1319.34 L904.24 1318.86 L899.91 1318.41 L895.57 1318 L891.24 1317.63 L886.91 1317.29 L882.57 1316.99 L878.24 1316.72 L873.9 1316.49 L869.57 1316.29 L865.24 1316.12 L860.9 1315.99 L856.57 1315.89 L852.24 1315.82 L847.9 1315.78 L843.57 1315.77 L839.23 1315.78 L834.9 1315.83 L830.57 1315.89 L826.23 1315.99 L821.9 1316.11 L817.57 1316.25 L813.23 1316.42 L808.9 1316.6 L804.56 1316.81 L800.23 1317.04 L795.9 1317.28 L791.56 1317.55 L787.23 1317.83 L782.89 1318.13 L778.56 1318.44 L774.23 1318.76 L769.89 1319.1 L765.56 1319.44 L761.23 1319.78 L756.89 1320.14 L752.56 1320.54 L748.22 1321.01 L743.89 1321.58 L739.56 1322.28 L735.22 1323.13 L730.89 1324.16 L726.56 1325.36 L722.22 1326.74 L717.89 1328.3 L713.55 1330.04 L713.22 1330.19 L711.97 1330.73 L710.72 1331.28 L709.47 1331.85 L709.22 1331.97 L708.22 1332.44 L706.97 1333.04 L705.72 1333.66 L704.89 1334.07 L704.47 1334.29 L703.22 1334.93 L701.97 1335.58 L700.72 1336.25 L700.55 1336.34 L699.47 1336.93 L698.22 1337.62 L696.97 1338.32 L696.22 1338.75 L695.72 1339.04 L694.47 1339.76 L693.22 1340.49 L691.97 1341.23 L691.89 1341.28 L690.72 1341.98 L689.47 1342.74 L688.22 1343.51 L687.55 1343.92 L686.97 1344.28 L685.72 1345.06 L684.47 1345.85 L683.22 1346.64Z" fill="#cccccc" stroke="#000" stroke-width="2.0" stroke-linejoin="miter"/>
<path d="M683.22 1334.67 L684.47 1334.28 L685.72 1333.89 L686.97 1333.5 L687.55 1333.32 L688.22 1333.12 L689.47 1332.73 L690.72 1332.34 L691.89 1331.98 L691.97 1331.95 L693.22 1331.56 L694.47 1331.17 L695.72 1330.79 L696.22 1330.63 L696.97 1330.4 L698.22 1330.01 L699.47 1329.63 L700.55 1329.29 L700.72 1329.24 L701.97 1328.85 L703.22 1328.47 L704.47 1328.08 L704.89 1327.95 L705.72 1327.7 L706.97 1327.31 L708.22 1326.93 L709.22 1326.62 L709.47 1326.55 L710.72 1326.17 L711.97 1325.79 L713.22 1325.41 L713.55 1325.3 L717.89 1324 L722.22 1322.7 L726.56 1321.42 L730.89 1320.15 L735.22 1318.91 L739.56 1317.68 L743.89 1316.48 L748.22 1315.29 L752.56 1314.14 L756.89 1313 L761.23 1311.9 L765.56 1310.82 L769.89 1309.77 L774.23 1308.75 L778.56 1307.77 L782.89 1306.81 L787.23 1305.89 L791.56 1305.01 L795.9 1304.16 L800.23 1303.34 L804.56 1302.56 L808.9 1301.8 L813.23 1301.08 L817.57 1300.38 L821.9 1299.72 L826.23 1299.07 L830.57 1298.45 L834.9 1297.85 L839.23 1297.28 L843.57 1296.72 L847.9 1296.18 L852.24 1295.66 L856.57 1295.15 L860.9 1294.66 L865.24 1294.18 L869.57 1293.71 L873.9 1293.25 L878.24 1292.8 L882.57 1292.36 L886.91 1291.92 L891.24 1291.49 L895.57 1291.06 L899.91 1290.64 L904.24 1290.22 L908.57 1289.81 L912.91 1289.4 L917.24 1288.99 L921.58 1288.6 L925.91 1288.2 L930.24 1287.81 L934.58 1287.43 L938.91 1287.05 L943.25 1286.68 L947.58 1286.31 L951.91 1285.95 L956.25 1285.59 L960.58 1285.24 L964.91 1284.9 L969.25 1284.56 L973.58 1284.23 L977.92 1283.9 L982.25 1283.58 L986.58 1283.26 L990.92 1282.95 L995.25 1282.65 L999.58 1282.35 L1003.92 1282.06 L1008.25 1281.78 L1012.59 1281.5 L1016.92 1281.23 L1021.25 1280.97 L1025.59 1280.71 L1029.92 1280.46 L1034.25 1280.22 L1038.59 1279.98 L1042.92 1279.76 L1047.26 1279.53 L1051.59 1279.32 L1055.92 1279.11 L1060.26 1278.91 L1064.59 1278.72 L1068.93 1278.53" fill="none" stroke="#000" stroke-width="2.0"/>
<line x1="668.1" y1="1321.55" x2="1081.6" y2="1321.55" stroke="#000" stroke-width="2.45" stroke-dasharray="5.65 4.25" stroke-linecap="round"/>
<path d="M683.8 1506.95V1517.55M687.87 1506.95V1517.55M690.12 1506.95V1517.55M692.48 1506.95V1517.55M694.07 1506.95V1517.55M695.67 1506.95V1517.55M761.49 1506.95V1517.55M762.84 1506.95V1517.55M764.04 1506.95V1517.55M765.7 1506.95V1517.55M767.41 1506.95V1517.55M768.66 1506.95V1517.55M770.61 1506.95V1517.55M778.44 1506.95V1517.55M780.17 1506.95V1517.55M781.79 1506.95V1517.55M784.46 1506.95V1517.55M785.91 1506.95V1517.55M798.19 1506.95V1517.55M802.09 1506.95V1517.55M805.99 1506.95V1517.55M808.59 1506.95V1517.55M810.67 1506.95V1517.55M812.49 1506.95V1517.55M823.67 1506.95V1517.55M829.38 1506.95V1517.55M836.66 1506.95V1517.55M842.9 1506.95V1517.55M849.66 1506.95V1517.55M853.56 1506.95V1517.55M855.9 1506.95V1517.55M865.26 1506.95V1517.55M867.08 1506.95V1517.55M888.66 1506.95V1517.55M914.66 1506.95V1517.55M916.74 1506.95V1517.55M1069.08 1506.95V1517.55" stroke="#000" stroke-width="1.15" fill="none"/>
<rect x="697.02" y="1506.95" width="22.96" height="10.6"/>
<rect x="720.67" y="1506.95" width="26.6" height="10.6"/>
<rect x="747.97" y="1506.95" width="12.82" height="10.6"/>
<rect x="773.19" y="1506.95" width="4.5" height="10.6"/>
<rect x="816.09" y="1506.95" width="2.42" height="10.6"/>
<rect x="668.5" y="1175.5" width="415.6" height="342.05" fill="none" stroke="#000" stroke-width="2.5"/>
<path d="M673.4 1517.55V1531.45M777.45 1517.55V1531.45M881.5 1517.55V1531.45M985.55 1517.55V1531.45M668.5 1242.29H654.6M668.5 1321.55H654.6M668.5 1400.81H654.6M668.5 1480.07H654.6" stroke="#000" stroke-width="2.5" fill="none"/>
<text transform="translate(673.4 1561.95) scale(1 1.03)" font-size="26.3" text-anchor="middle">0.0</text>
<text transform="translate(777.45 1561.95) scale(1 1.03)" font-size="26.3" text-anchor="middle">0.5</text>
<text transform="translate(881.5 1561.95) scale(1 1.03)" font-size="26.3" text-anchor="middle">1.0</text>
<text transform="translate(985.55 1561.95) scale(1 1.03)" font-size="26.3" text-anchor="middle">1.5</text>
<text transform="translate(638.3 1242.29) rotate(-90) scale(1 1.03)" font-size="26.3" text-anchor="middle">2</text>
<text transform="translate(638.3 1321.55) rotate(-90) scale(1 1.03)" font-size="26.3" text-anchor="middle">0</text>
<text transform="translate(638.3 1400.81) rotate(-90) scale(1 1.03)" font-size="26.3" text-anchor="middle">-2</text>
<text transform="translate(638.3 1480.07) rotate(-90) scale(1 1.03)" font-size="26.3" text-anchor="middle">-4</text>
<text transform="translate(876 1599.85) scale(1 1.04)" font-size="28.65" text-anchor="middle">SST_Grad (°C)</text>
<text transform="translate(589.1 1345.93) rotate(-90) scale(1 1.04)" font-size="28.65" text-anchor="middle">s(SST_Grad, 1.59)</text>
<text transform="translate(573.9 1149.2) scale(1 1.03)" font-size="29.4" text-anchor="start" font-weight="bold">H</text>
</g>
<g id="panelI">
<path d="M1252.2 1220.7 L1469.9 1320.7 L1637.9 1320 L1637.9 1397.8 L1469.9 1320.7 L1252.2 1322.7Z" fill="#cccccc" stroke="#000" stroke-width="2.0" stroke-linejoin="miter"/>
<path d="M1252.2 1272.1 L1469.9 1320.7 L1637.9 1358.9" fill="none" stroke="#000" stroke-width="2.0"/>
<line x1="1237.1" y1="1321.55" x2="1650.6" y2="1321.55" stroke="#000" stroke-width="2.45" stroke-dasharray="5.65 4.25" stroke-linecap="round"/>
<path d="M1314.47 1506.95V1517.55M1318.89 1506.95V1517.55M1322.79 1506.95V1517.55M1325.39 1506.95V1517.55M1327.99 1506.95V1517.55M1344.11 1506.95V1517.55M1347.49 1506.95V1517.55M1349.57 1506.95V1517.55M1351.39 1506.95V1517.55M1353.21 1506.95V1517.55M1356.59 1506.95V1517.55M1361.66 1506.95V1517.55M1362.53 1506.95V1517.55M1363.44 1506.95V1517.55M1364.5 1506.95V1517.55M1397.4 1506.95V1517.55M1399.53 1506.95V1517.55M1401.71 1506.95V1517.55M1403.3 1506.95V1517.55M1404.2 1506.95V1517.55M1406.7 1506.95V1517.55M1408.04 1506.95V1517.55M1410.13 1506.95V1517.55M1411.87 1506.95V1517.55M1413.15 1506.95V1517.55M1414.47 1506.95V1517.55M1415.96 1506.95V1517.55M1417.96 1506.95V1517.55M1420.69 1506.95V1517.55M1421.71 1506.95V1517.55M1424.5 1506.95V1517.55M1425.5 1506.95V1517.55M1428.34 1506.95V1517.55M1430.66 1506.95V1517.55M1432.32 1506.95V1517.55M1433.81 1506.95V1517.55M1436.76 1506.95V1517.55M1439.11 1506.95V1517.55M1447.45 1506.95V1517.55M1449.01 1506.95V1517.55M1449.5 1506.95V1517.55M1450.85 1506.95V1517.55M1452.15 1506.95V1517.55M1453.27 1506.95V1517.55M1454 1506.95V1517.55M1455.89 1506.95V1517.55M1456.6 1506.95V1517.55M1458.5 1506.95V1517.55M1460.2 1506.95V1517.55M1461.02 1506.95V1517.55M1462.25 1506.95V1517.55M1463.6 1506.95V1517.55M1464.92 1506.95V1517.55M1465.84 1506.95V1517.55M1467.1 1506.95V1517.55M1468.8 1506.95V1517.55M1503.25 1506.95V1517.55M1504.28 1506.95V1517.55M1505.32 1506.95V1517.55M1506.22 1506.95V1517.55M1508.42 1506.95V1517.55M1509.64 1506.95V1517.55M1510.67 1506.95V1517.55M1511.85 1506.95V1517.55M1512.57 1506.95V1517.55M1514.12 1506.95V1517.55M1515.08 1506.95V1517.55M1515.76 1506.95V1517.55M1517.1 1506.95V1517.55M1518.12 1506.95V1517.55M1519.41 1506.95V1517.55M1524.06 1506.95V1517.55M1526.1 1506.95V1517.55M1528.59 1506.95V1517.55M1529.31 1506.95V1517.55M1530.86 1506.95V1517.55M1532.14 1506.95V1517.55M1533.8 1506.95V1517.55M1534.73 1506.95V1517.55M1536.43 1506.95V1517.55M1537.09 1506.95V1517.55M1538.2 1506.95V1517.55M1539.64 1506.95V1517.55M1541.25 1506.95V1517.55M1542.24 1506.95V1517.55M1544.63 1506.95V1517.55M1547.21 1506.95V1517.55M1548.98 1506.95V1517.55M1550.38 1506.95V1517.55M1552.58 1506.95V1517.55M1556.16 1506.95V1517.55M1556.92 1506.95V1517.55M1559.98 1506.95V1517.55M1561.82 1506.95V1517.55M1564.6 1506.95V1517.55M1567.94 1506.95V1517.55M1569.04 1506.95V1517.55M1575.11 1506.95V1517.55M1575.67 1506.95V1517.55M1576.54 1506.95V1517.55M1577.62 1506.95V1517.55M1578.56 1506.95V1517.55M1579.68 1506.95V1517.55M1580.64 1506.95V1517.55M1582.26 1506.95V1517.55M1584.26 1506.95V1517.55M1585.84 1506.95V1517.55M1587.1 1506.95V1517.55M1588.43 1506.95V1517.55M1590.19 1506.95V1517.55M1591.36 1506.95V1517.55M1592.56 1506.95V1517.55M1594.18 1506.95V1517.55M1595.66 1506.95V1517.55M1596.95 1506.95V1517.55M1598.63 1506.95V1517.55M1599.86 1506.95V1517.55M1600.43 1506.95V1517.55M1602.25 1506.95V1517.55M1603.58 1506.95V1517.55M1604.61 1506.95V1517.55M1605.56 1506.95V1517.55M1606.67 1506.95V1517.55M1613.18 1506.95V1517.55M1621.24 1506.95V1517.55M1626.46 1506.95V1517.55M1627.92 1506.95V1517.55M1628.96 1506.95V1517.55M1629.88 1506.95V1517.55M1631.57 1506.95V1517.55M1632.45 1506.95V1517.55M1633.76 1506.95V1517.55M1634.8 1506.95V1517.55M1635.87 1506.95V1517.55M1637.04 1506.95V1517.55" stroke="#000" stroke-width="1.15" fill="none"/>
<rect x="1252.3" y="1506.95" width="2.68" height="10.6"/>
<rect x="1271.8" y="1506.95" width="2.42" height="10.6"/>
<rect x="1332.37" y="1506.95" width="3.2" height="10.6"/>
<rect x="1366.17" y="1506.95" width="11" height="10.6"/>
<rect x="1377.87" y="1506.95" width="7.1" height="10.6"/>
<rect x="1385.4" y="1506.95" width="3.46" height="10.6"/>
<rect x="1389.56" y="1506.95" width="3.2" height="10.6"/>
<rect x="1393.2" y="1506.95" width="2.68" height="10.6"/>
<rect x="1440.78" y="1506.95" width="5.8" height="10.6"/>
<rect x="1470.68" y="1506.95" width="21.4" height="10.6"/>
<rect x="1492.77" y="1506.95" width="5.8" height="10.6"/>
<rect x="1237.5" y="1175.5" width="415.6" height="342.05" fill="none" stroke="#000" stroke-width="2.5"/>
<path d="M1252.6 1517.55V1531.45M1306.7 1517.55V1531.45M1360.8 1517.55V1531.45M1414.9 1517.55V1531.45M1469 1517.55V1531.45M1523.1 1517.55V1531.45M1577.2 1517.55V1531.45M1631.3 1517.55V1531.45M1237.5 1242.29H1223.6M1237.5 1321.55H1223.6M1237.5 1400.81H1223.6M1237.5 1480.07H1223.6" stroke="#000" stroke-width="2.5" fill="none"/>
<text transform="translate(1252.6 1561.95) scale(1 1.03)" font-size="26.3" text-anchor="middle">0.0</text>
<text transform="translate(1360.8 1561.95) scale(1 1.03)" font-size="26.3" text-anchor="middle">0.4</text>
<text transform="translate(1469 1561.95) scale(1 1.03)" font-size="26.3" text-anchor="middle">0.8</text>
<text transform="translate(1577.2 1561.95) scale(1 1.03)" font-size="26.3" text-anchor="middle">1.2</text>
<text transform="translate(1207.3 1242.29) rotate(-90) scale(1 1.03)" font-size="26.3" text-anchor="middle">2</text>
<text transform="translate(1207.3 1321.55) rotate(-90) scale(1 1.03)" font-size="26.3" text-anchor="middle">0</text>
<text transform="translate(1207.3 1400.81) rotate(-90) scale(1 1.03)" font-size="26.3" text-anchor="middle">-2</text>
<text transform="translate(1207.3 1480.07) rotate(-90) scale(1 1.03)" font-size="26.3" text-anchor="middle">-4</text>
<text transform="translate(1445 1599.85) scale(1 1.04)" font-size="28.65" text-anchor="middle">Env_Het</text>
<text transform="translate(1158.1 1345.93) rotate(-90) scale(1 1.04)" font-size="28.65" text-anchor="middle">s(Env_Het, 1)</text>
<text transform="translate(1129 1155) scale(1 1.03)" font-size="29.4" text-anchor="start" font-weight="bold">I</text>
</g>
<rect x="863.9" y="33.0" width="3.7" height="1" fill="#777"/><rect x="884.0" y="33.0" width="3.9" height="1" fill="#777"/><rect x="1433.6" y="33.0" width="3.4" height="1" fill="#777"/><rect x="1452.0" y="33.0" width="3.9" height="1" fill="#777"/>
</g></svg>
</body></html>
